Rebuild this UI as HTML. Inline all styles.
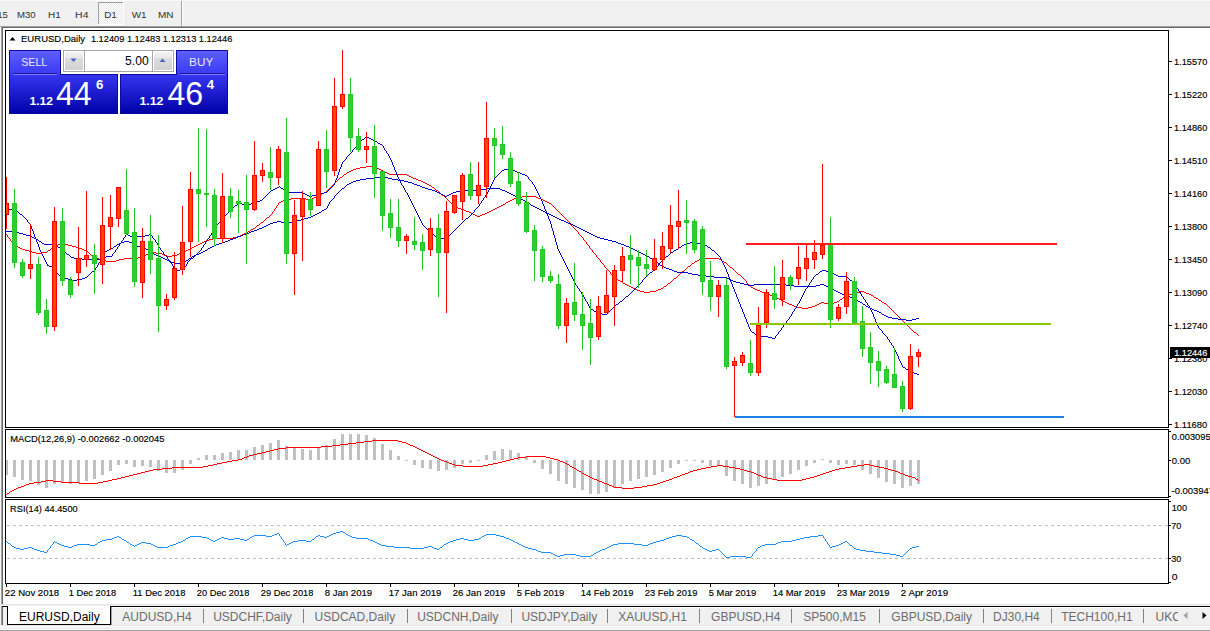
<!DOCTYPE html>
<html><head><meta charset="utf-8"><title>EURUSD,Daily</title>
<style>html,body{margin:0;padding:0;width:1210px;height:631px;overflow:hidden;background:#fff}svg{display:block}</style>
</head><body>
<svg width="1210" height="631" viewBox="0 0 1210 631"><rect x="0" y="0" width="1210" height="631" fill="#ffffff" />
<rect x="0" y="0" width="1210" height="26" fill="#f0f0f0" />
<rect x="0" y="26" width="1210" height="1" fill="#a0a0a0" />
<rect x="1" y="27" width="1209" height="1" fill="#696969" />
<rect x="0" y="28" width="1" height="576" fill="#f8f8f8" />
<rect x="1" y="27" width="1" height="578" fill="#a0a0a0" />
<rect x="2" y="28" width="1" height="577" fill="#696969" />
<rect x="0" y="0" width="1210" height="1" fill="#fafafa" />
<defs><pattern id="chk" x="0" y="0" width="2" height="2" patternUnits="userSpaceOnUse"><rect width="2" height="2" fill="#ffffff"/><rect width="1" height="1" fill="#e8e8e8"/><rect x="1" y="1" width="1" height="1" fill="#e8e8e8"/></pattern></defs>
<rect x="99" y="3" width="24" height="21" fill="url(#chk)" />
<rect x="98" y="2" width="25" height="1" fill="#a0a0a0" />
<rect x="98" y="2" width="1" height="22" fill="#a0a0a0" />
<rect x="98" y="24" width="26" height="1" fill="#ffffff" />
<rect x="123" y="1" width="1" height="24" fill="#ffffff" />
<rect x="181" y="1" width="1" height="26" fill="#a0a0a0" />
<rect x="182" y="1" width="1" height="25" fill="#ffffff" />
<g font-family="'Liberation Sans', Arial, sans-serif">
<text x="-10.8" y="18" font-size="9.8" fill="#383838" font-weight="normal" text-anchor="start" stroke="#383838" stroke-width="0.05" textLength="18.6" lengthAdjust="spacingAndGlyphs">M15</text>
<text x="17.0" y="18" font-size="9.8" fill="#383838" font-weight="normal" text-anchor="start" stroke="#383838" stroke-width="0.05" textLength="18.6" lengthAdjust="spacingAndGlyphs">M30</text>
<text x="48.1" y="18" font-size="9.8" fill="#383838" font-weight="normal" text-anchor="start" stroke="#383838" stroke-width="0.05" textLength="12.7" lengthAdjust="spacingAndGlyphs">H1</text>
<text x="75.1" y="18" font-size="9.8" fill="#383838" font-weight="normal" text-anchor="start" stroke="#383838" stroke-width="0.05" textLength="13.4" lengthAdjust="spacingAndGlyphs">H4</text>
<text x="104.2" y="18" font-size="9.8" fill="#383838" font-weight="normal" text-anchor="start" stroke="#383838" stroke-width="0.05" textLength="12.6" lengthAdjust="spacingAndGlyphs">D1</text>
<text x="131.7" y="18" font-size="9.8" fill="#383838" font-weight="normal" text-anchor="start" stroke="#383838" stroke-width="0.05" textLength="14.8" lengthAdjust="spacingAndGlyphs">W1</text>
<text x="158.0" y="18" font-size="9.8" fill="#383838" font-weight="normal" text-anchor="start" stroke="#383838" stroke-width="0.05" textLength="15.6" lengthAdjust="spacingAndGlyphs">MN</text>
</g>
<g shape-rendering="crispEdges">
<path d="M366 166h6v1h-6zM360 167h6v1h-6zM372 167h4v1h-4zM356 168h4v1h-4zM376 168h3v1h-3zM353 169h3v1h-3zM379 169h2v1h-2zM351 170h2v1h-2zM381 170h2v1h-2zM349 171h2v1h-2zM383 171h2v1h-2zM347 172h2v1h-2zM385 172h2v1h-2zM346 173h1v1h-1zM387 173h2v1h-2zM344 174h2v1h-2zM389 174h18v1h-18zM343 175h1v1h-1zM407 175h2v1h-2zM342 176h1v1h-1zM409 176h2v1h-2zM340 177h2v1h-2zM411 177h2v1h-2zM339 178h1v1h-1zM413 178h3v1h-3zM338 179h1v1h-1zM416 179h2v1h-2zM337 180h1v1h-1zM418 180h3v1h-3zM336 181h1v1h-1zM421 181h2v1h-2zM335 182h1v1h-1zM423 182h2v1h-2zM334 183h1v1h-1zM425 183h2v1h-2zM333 184h1v1h-1zM427 184h2v1h-2zM332 185h1v1h-1zM429 185h2v1h-2zM331 186h1v1h-1zM431 186h1v1h-1zM330 187h1v1h-1zM432 187h2v1h-2zM329 188h1v1h-1zM434 188h1v1h-1zM328 189h1v1h-1zM435 189h1v1h-1zM327 190h1v1h-1zM436 190h2v1h-2zM326 191h1v1h-1zM438 191h1v1h-1zM324 192h2v1h-2zM439 192h1v1h-1zM322 193h2v1h-2zM440 193h1v1h-1zM321 194h1v1h-1zM441 194h1v1h-1zM319 195h2v1h-2zM442 195h2v1h-2zM317 196h2v1h-2zM444 196h1v1h-1zM522 196h14v1h-14zM314 197h3v1h-3zM445 197h1v1h-1zM517 197h5v1h-5zM536 197h2v1h-2zM291 198h15v1h-15zM312 198h2v1h-2zM446 198h1v1h-1zM514 198h3v1h-3zM538 198h3v1h-3zM286 199h5v1h-5zM306 199h6v1h-6zM447 199h1v1h-1zM512 199h2v1h-2zM541 199h2v1h-2zM283 200h3v1h-3zM448 200h1v1h-1zM510 200h2v1h-2zM543 200h2v1h-2zM281 201h2v1h-2zM449 201h1v1h-1zM508 201h2v1h-2zM545 201h2v1h-2zM279 202h2v1h-2zM450 202h1v1h-1zM506 202h2v1h-2zM547 202h2v1h-2zM278 203h1v1h-1zM451 203h1v1h-1zM505 203h1v1h-1zM549 203h2v1h-2zM278 204h1v1h-1zM452 204h1v1h-1zM503 204h2v1h-2zM551 204h1v1h-1zM277 205h1v1h-1zM453 205h1v1h-1zM501 205h2v1h-2zM552 205h1v1h-1zM276 206h1v1h-1zM454 206h2v1h-2zM499 206h2v1h-2zM553 206h1v1h-1zM276 207h1v1h-1zM456 207h2v1h-2zM497 207h2v1h-2zM554 207h1v1h-1zM275 208h1v1h-1zM458 208h3v1h-3zM495 208h2v1h-2zM555 208h1v1h-1zM274 209h1v1h-1zM461 209h3v1h-3zM493 209h2v1h-2zM556 209h1v1h-1zM274 210h1v1h-1zM464 210h2v1h-2zM491 210h2v1h-2zM557 210h1v1h-1zM273 211h1v1h-1zM466 211h3v1h-3zM489 211h2v1h-2zM558 211h1v1h-1zM272 212h1v1h-1zM469 212h2v1h-2zM487 212h2v1h-2zM559 212h1v1h-1zM272 213h1v1h-1zM471 213h2v1h-2zM485 213h2v1h-2zM560 213h1v1h-1zM271 214h1v1h-1zM473 214h2v1h-2zM482 214h3v1h-3zM561 214h1v1h-1zM270 215h1v1h-1zM475 215h2v1h-2zM480 215h2v1h-2zM562 215h1v1h-1zM269 216h1v1h-1zM477 216h3v1h-3zM563 216h1v1h-1zM267 217h2v1h-2zM564 217h1v1h-1zM266 218h1v1h-1zM565 218h1v1h-1zM265 219h1v1h-1zM566 219h1v1h-1zM264 220h1v1h-1zM567 220h1v1h-1zM263 221h1v1h-1zM568 221h1v1h-1zM261 222h2v1h-2zM569 222h1v1h-1zM260 223h1v1h-1zM570 223h1v1h-1zM259 224h1v1h-1zM570 224h1v1h-1zM257 225h2v1h-2zM571 225h1v1h-1zM256 226h1v1h-1zM572 226h1v1h-1zM255 227h1v1h-1zM573 227h1v1h-1zM253 228h2v1h-2zM574 228h1v1h-1zM251 229h2v1h-2zM575 229h1v1h-1zM250 230h1v1h-1zM576 230h1v1h-1zM248 231h2v1h-2zM577 231h1v1h-1zM246 232h2v1h-2zM578 232h1v1h-1zM244 233h2v1h-2zM578 233h1v1h-1zM6 234h1v1h-1zM242 234h2v1h-2zM579 234h1v1h-1zM7 235h1v1h-1zM240 235h2v1h-2zM580 235h1v1h-1zM7 236h1v1h-1zM237 236h3v1h-3zM581 236h1v1h-1zM8 237h1v1h-1zM233 237h4v1h-4zM582 237h1v1h-1zM9 238h1v1h-1zM213 238h20v1h-20zM583 238h1v1h-1zM10 239h1v1h-1zM209 239h4v1h-4zM583 239h1v1h-1zM10 240h1v1h-1zM206 240h3v1h-3zM584 240h1v1h-1zM11 241h1v1h-1zM204 241h2v1h-2zM585 241h1v1h-1zM12 242h1v1h-1zM202 242h2v1h-2zM586 242h1v1h-1zM13 243h1v1h-1zM200 243h2v1h-2zM586 243h1v1h-1zM14 244h2v1h-2zM58 244h10v1h-10zM198 244h2v1h-2zM587 244h1v1h-1zM16 245h1v1h-1zM56 245h2v1h-2zM68 245h4v1h-4zM196 245h2v1h-2zM588 245h1v1h-1zM17 246h1v1h-1zM54 246h2v1h-2zM72 246h4v1h-4zM194 246h2v1h-2zM589 246h1v1h-1zM18 247h2v1h-2zM52 247h2v1h-2zM76 247h3v1h-3zM192 247h2v1h-2zM589 247h1v1h-1zM20 248h2v1h-2zM51 248h1v1h-1zM79 248h3v1h-3zM190 248h2v1h-2zM590 248h1v1h-1zM22 249h3v1h-3zM50 249h1v1h-1zM82 249h2v1h-2zM188 249h2v1h-2zM591 249h1v1h-1zM25 250h4v1h-4zM48 250h2v1h-2zM84 250h2v1h-2zM186 250h2v1h-2zM592 250h1v1h-1zM29 251h3v1h-3zM47 251h1v1h-1zM86 251h2v1h-2zM183 251h3v1h-3zM592 251h1v1h-1zM32 252h4v1h-4zM42 252h5v1h-5zM88 252h1v1h-1zM151 252h5v1h-5zM181 252h2v1h-2zM593 252h1v1h-1zM36 253h6v1h-6zM89 253h1v1h-1zM148 253h3v1h-3zM156 253h6v1h-6zM179 253h2v1h-2zM594 253h1v1h-1zM90 254h1v1h-1zM146 254h2v1h-2zM162 254h2v1h-2zM177 254h2v1h-2zM595 254h1v1h-1zM91 255h1v1h-1zM143 255h3v1h-3zM164 255h3v1h-3zM172 255h5v1h-5zM596 255h1v1h-1zM92 256h1v1h-1zM140 256h3v1h-3zM167 256h5v1h-5zM596 256h1v1h-1zM93 257h2v1h-2zM138 257h2v1h-2zM597 257h1v1h-1zM95 258h4v1h-4zM124 258h14v1h-14zM598 258h1v1h-1zM701 258h18v1h-18zM99 259h3v1h-3zM119 259h5v1h-5zM599 259h1v1h-1zM699 259h2v1h-2zM719 259h2v1h-2zM102 260h4v1h-4zM116 260h3v1h-3zM600 260h1v1h-1zM697 260h2v1h-2zM721 260h1v1h-1zM106 261h10v1h-10zM600 261h1v1h-1zM695 261h2v1h-2zM722 261h2v1h-2zM601 262h1v1h-1zM694 262h1v1h-1zM724 262h2v1h-2zM602 263h1v1h-1zM692 263h2v1h-2zM726 263h1v1h-1zM603 264h1v1h-1zM691 264h1v1h-1zM727 264h1v1h-1zM604 265h1v1h-1zM690 265h1v1h-1zM728 265h1v1h-1zM604 266h1v1h-1zM688 266h2v1h-2zM729 266h1v1h-1zM605 267h1v1h-1zM687 267h1v1h-1zM730 267h2v1h-2zM606 268h1v1h-1zM686 268h1v1h-1zM732 268h1v1h-1zM607 269h1v1h-1zM685 269h1v1h-1zM733 269h1v1h-1zM608 270h1v1h-1zM684 270h1v1h-1zM734 270h1v1h-1zM609 271h1v1h-1zM682 271h2v1h-2zM735 271h1v1h-1zM610 272h1v1h-1zM681 272h1v1h-1zM736 272h1v1h-1zM610 273h1v1h-1zM680 273h1v1h-1zM737 273h1v1h-1zM611 274h1v1h-1zM679 274h1v1h-1zM738 274h2v1h-2zM612 275h1v1h-1zM678 275h1v1h-1zM740 275h1v1h-1zM613 276h1v1h-1zM677 276h1v1h-1zM741 276h1v1h-1zM614 277h1v1h-1zM676 277h1v1h-1zM742 277h1v1h-1zM615 278h2v1h-2zM674 278h2v1h-2zM743 278h1v1h-1zM617 279h1v1h-1zM673 279h1v1h-1zM744 279h1v1h-1zM618 280h2v1h-2zM672 280h1v1h-1zM745 280h1v1h-1zM620 281h2v1h-2zM671 281h1v1h-1zM746 281h1v1h-1zM622 282h1v1h-1zM670 282h1v1h-1zM746 282h1v1h-1zM623 283h2v1h-2zM668 283h2v1h-2zM747 283h1v1h-1zM625 284h2v1h-2zM667 284h1v1h-1zM748 284h1v1h-1zM627 285h2v1h-2zM666 285h1v1h-1zM749 285h1v1h-1zM629 286h2v1h-2zM664 286h2v1h-2zM750 286h1v1h-1zM631 287h2v1h-2zM663 287h1v1h-1zM751 287h2v1h-2zM633 288h2v1h-2zM661 288h2v1h-2zM753 288h2v1h-2zM635 289h2v1h-2zM658 289h3v1h-3zM755 289h2v1h-2zM637 290h3v1h-3zM656 290h2v1h-2zM757 290h3v1h-3zM640 291h4v1h-4zM650 291h6v1h-6zM760 291h2v1h-2zM860 291h4v1h-4zM644 292h6v1h-6zM762 292h3v1h-3zM856 292h4v1h-4zM864 292h2v1h-2zM765 293h3v1h-3zM852 293h4v1h-4zM866 293h3v1h-3zM768 294h2v1h-2zM848 294h4v1h-4zM869 294h2v1h-2zM770 295h3v1h-3zM846 295h2v1h-2zM871 295h2v1h-2zM773 296h2v1h-2zM844 296h2v1h-2zM873 296h1v1h-1zM775 297h2v1h-2zM843 297h1v1h-1zM874 297h2v1h-2zM777 298h2v1h-2zM842 298h1v1h-1zM876 298h2v1h-2zM779 299h2v1h-2zM840 299h2v1h-2zM878 299h1v1h-1zM781 300h2v1h-2zM839 300h1v1h-1zM879 300h2v1h-2zM783 301h2v1h-2zM837 301h2v1h-2zM881 301h1v1h-1zM785 302h2v1h-2zM821 302h3v1h-3zM834 302h3v1h-3zM882 302h2v1h-2zM787 303h2v1h-2zM819 303h2v1h-2zM824 303h4v1h-4zM832 303h2v1h-2zM884 303h2v1h-2zM789 304h3v1h-3zM817 304h2v1h-2zM828 304h4v1h-4zM886 304h1v1h-1zM792 305h2v1h-2zM815 305h2v1h-2zM887 305h1v1h-1zM794 306h3v1h-3zM812 306h3v1h-3zM888 306h1v1h-1zM797 307h5v1h-5zM808 307h4v1h-4zM889 307h1v1h-1zM802 308h6v1h-6zM890 308h1v1h-1zM891 309h1v1h-1zM892 310h1v1h-1zM893 311h1v1h-1zM894 312h1v1h-1zM895 313h1v1h-1zM896 314h1v1h-1zM897 315h1v1h-1zM898 316h1v1h-1zM899 317h1v1h-1zM900 318h1v1h-1zM901 319h1v1h-1zM902 320h1v1h-1zM903 321h1v1h-1zM904 322h1v1h-1zM905 323h1v1h-1zM906 324h1v1h-1zM907 325h1v1h-1zM908 326h1v1h-1zM909 327h1v1h-1zM910 328h1v1h-1zM911 329h1v1h-1zM912 330h1v1h-1zM913 331h1v1h-1zM914 332h2v1h-2zM916 333h1v1h-1zM917 334h1v1h-1zM918 335h1v1h-1z" fill="#ff0000"/>
<path d="M374 177h14v1h-14zM366 178h8v1h-8zM388 178h4v1h-4zM360 179h6v1h-6zM392 179h6v1h-6zM356 180h4v1h-4zM398 180h6v1h-6zM353 181h3v1h-3zM404 181h4v1h-4zM351 182h2v1h-2zM408 182h4v1h-4zM349 183h2v1h-2zM412 183h2v1h-2zM347 184h2v1h-2zM414 184h3v1h-3zM346 185h1v1h-1zM417 185h3v1h-3zM345 186h1v1h-1zM420 186h2v1h-2zM344 187h1v1h-1zM422 187h3v1h-3zM342 188h2v1h-2zM425 188h3v1h-3zM486 188h14v1h-14zM341 189h1v1h-1zM428 189h4v1h-4zM476 189h10v1h-10zM500 189h2v1h-2zM340 190h1v1h-1zM432 190h3v1h-3zM460 190h16v1h-16zM502 190h3v1h-3zM339 191h1v1h-1zM435 191h2v1h-2zM456 191h4v1h-4zM505 191h2v1h-2zM338 192h1v1h-1zM437 192h2v1h-2zM453 192h3v1h-3zM507 192h2v1h-2zM337 193h1v1h-1zM439 193h2v1h-2zM451 193h2v1h-2zM509 193h2v1h-2zM336 194h1v1h-1zM441 194h2v1h-2zM449 194h2v1h-2zM511 194h2v1h-2zM335 195h1v1h-1zM443 195h2v1h-2zM447 195h2v1h-2zM513 195h2v1h-2zM334 196h1v1h-1zM445 196h2v1h-2zM515 196h2v1h-2zM334 197h1v1h-1zM517 197h2v1h-2zM333 198h1v1h-1zM519 198h2v1h-2zM332 199h1v1h-1zM521 199h2v1h-2zM331 200h1v1h-1zM523 200h2v1h-2zM330 201h1v1h-1zM525 201h1v1h-1zM329 202h1v1h-1zM526 202h2v1h-2zM329 203h1v1h-1zM528 203h2v1h-2zM328 204h1v1h-1zM530 204h1v1h-1zM328 205h1v1h-1zM531 205h2v1h-2zM327 206h1v1h-1zM533 206h2v1h-2zM327 207h1v1h-1zM535 207h2v1h-2zM326 208h1v1h-1zM537 208h2v1h-2zM324 209h2v1h-2zM539 209h2v1h-2zM322 210h2v1h-2zM541 210h2v1h-2zM321 211h1v1h-1zM543 211h2v1h-2zM319 212h2v1h-2zM545 212h2v1h-2zM317 213h2v1h-2zM547 213h2v1h-2zM315 214h2v1h-2zM549 214h2v1h-2zM313 215h2v1h-2zM551 215h2v1h-2zM311 216h2v1h-2zM553 216h2v1h-2zM308 217h3v1h-3zM555 217h2v1h-2zM304 218h4v1h-4zM557 218h2v1h-2zM301 219h3v1h-3zM559 219h2v1h-2zM297 220h4v1h-4zM561 220h3v1h-3zM277 221h4v1h-4zM293 221h4v1h-4zM564 221h2v1h-2zM273 222h4v1h-4zM281 222h4v1h-4zM289 222h4v1h-4zM566 222h2v1h-2zM270 223h3v1h-3zM285 223h4v1h-4zM568 223h3v1h-3zM268 224h2v1h-2zM571 224h2v1h-2zM266 225h2v1h-2zM573 225h2v1h-2zM264 226h2v1h-2zM575 226h2v1h-2zM262 227h2v1h-2zM577 227h2v1h-2zM259 228h3v1h-3zM579 228h2v1h-2zM257 229h2v1h-2zM581 229h2v1h-2zM254 230h3v1h-3zM583 230h2v1h-2zM6 231h6v1h-6zM251 231h3v1h-3zM585 231h2v1h-2zM12 232h7v1h-7zM249 232h2v1h-2zM587 232h2v1h-2zM19 233h4v1h-4zM246 233h3v1h-3zM589 233h2v1h-2zM23 234h3v1h-3zM243 234h3v1h-3zM591 234h2v1h-2zM26 235h4v1h-4zM241 235h2v1h-2zM593 235h2v1h-2zM30 236h2v1h-2zM238 236h3v1h-3zM595 236h2v1h-2zM32 237h2v1h-2zM236 237h2v1h-2zM597 237h3v1h-3zM34 238h2v1h-2zM233 238h3v1h-3zM600 238h4v1h-4zM36 239h2v1h-2zM230 239h3v1h-3zM604 239h4v1h-4zM38 240h1v1h-1zM228 240h2v1h-2zM608 240h4v1h-4zM39 241h2v1h-2zM124 241h5v1h-5zM225 241h3v1h-3zM612 241h4v1h-4zM41 242h1v1h-1zM121 242h3v1h-3zM129 242h3v1h-3zM222 242h3v1h-3zM616 242h2v1h-2zM42 243h2v1h-2zM119 243h2v1h-2zM132 243h2v1h-2zM219 243h3v1h-3zM618 243h3v1h-3zM44 244h10v1h-10zM117 244h2v1h-2zM134 244h1v1h-1zM216 244h3v1h-3zM621 244h3v1h-3zM54 245h2v1h-2zM116 245h1v1h-1zM135 245h2v1h-2zM214 245h2v1h-2zM624 245h2v1h-2zM56 246h2v1h-2zM114 246h2v1h-2zM137 246h4v1h-4zM212 246h2v1h-2zM626 246h3v1h-3zM58 247h2v1h-2zM113 247h1v1h-1zM141 247h4v1h-4zM210 247h2v1h-2zM629 247h2v1h-2zM60 248h1v1h-1zM111 248h2v1h-2zM145 248h1v1h-1zM208 248h2v1h-2zM631 248h2v1h-2zM61 249h1v1h-1zM109 249h2v1h-2zM146 249h2v1h-2zM207 249h1v1h-1zM633 249h2v1h-2zM62 250h2v1h-2zM107 250h2v1h-2zM148 250h1v1h-1zM205 250h2v1h-2zM635 250h2v1h-2zM64 251h1v1h-1zM105 251h2v1h-2zM149 251h2v1h-2zM203 251h2v1h-2zM637 251h2v1h-2zM65 252h1v1h-1zM104 252h1v1h-1zM151 252h1v1h-1zM201 252h2v1h-2zM639 252h2v1h-2zM66 253h1v1h-1zM103 253h1v1h-1zM152 253h2v1h-2zM199 253h2v1h-2zM641 253h2v1h-2zM67 254h2v1h-2zM103 254h1v1h-1zM154 254h2v1h-2zM196 254h3v1h-3zM643 254h2v1h-2zM69 255h1v1h-1zM102 255h1v1h-1zM156 255h2v1h-2zM194 255h2v1h-2zM645 255h2v1h-2zM70 256h1v1h-1zM102 256h1v1h-1zM158 256h3v1h-3zM192 256h2v1h-2zM647 256h2v1h-2zM71 257h3v1h-3zM101 257h1v1h-1zM161 257h2v1h-2zM191 257h1v1h-1zM649 257h1v1h-1zM74 258h8v1h-8zM101 258h1v1h-1zM163 258h2v1h-2zM189 258h2v1h-2zM650 258h2v1h-2zM82 259h19v1h-19zM165 259h2v1h-2zM188 259h1v1h-1zM652 259h2v1h-2zM167 260h2v1h-2zM186 260h2v1h-2zM654 260h1v1h-1zM169 261h2v1h-2zM184 261h2v1h-2zM655 261h1v1h-1zM171 262h4v1h-4zM180 262h4v1h-4zM656 262h2v1h-2zM175 263h5v1h-5zM658 263h1v1h-1zM659 264h1v1h-1zM660 265h2v1h-2zM662 266h2v1h-2zM664 267h2v1h-2zM666 268h3v1h-3zM669 269h3v1h-3zM672 270h2v1h-2zM674 271h3v1h-3zM677 272h11v1h-11zM688 273h4v1h-4zM692 274h6v1h-6zM698 275h8v1h-8zM706 276h8v1h-8zM714 277h13v1h-13zM727 278h2v1h-2zM729 279h2v1h-2zM731 280h2v1h-2zM733 281h3v1h-3zM736 282h4v1h-4zM740 283h4v1h-4zM744 284h4v1h-4zM754 284h32v1h-32zM820 284h4v1h-4zM748 285h6v1h-6zM786 285h8v1h-8zM816 285h4v1h-4zM824 285h2v1h-2zM794 286h22v1h-22zM826 286h3v1h-3zM829 287h2v1h-2zM831 288h2v1h-2zM833 289h1v1h-1zM834 290h2v1h-2zM836 291h2v1h-2zM838 292h2v1h-2zM840 293h2v1h-2zM842 294h3v1h-3zM845 295h3v1h-3zM848 296h2v1h-2zM850 297h3v1h-3zM853 298h2v1h-2zM855 299h2v1h-2zM857 300h1v1h-1zM858 301h2v1h-2zM860 302h2v1h-2zM862 303h1v1h-1zM863 304h2v1h-2zM865 305h1v1h-1zM866 306h2v1h-2zM868 307h2v1h-2zM870 308h2v1h-2zM872 309h2v1h-2zM874 310h3v1h-3zM877 311h2v1h-2zM879 312h2v1h-2zM881 313h1v1h-1zM882 314h2v1h-2zM884 315h2v1h-2zM886 316h2v1h-2zM888 317h4v1h-4zM892 318h6v1h-6zM916 318h3v1h-3zM898 319h8v1h-8zM912 319h4v1h-4zM906 320h6v1h-6z" fill="#0000cd"/>
<path d="M366 136h1v1h-1zM365 137h1v1h-1zM367 137h2v1h-2zM364 138h1v1h-1zM369 138h2v1h-2zM362 139h2v1h-2zM371 139h2v1h-2zM361 140h1v1h-1zM373 140h2v1h-2zM360 141h1v1h-1zM375 141h2v1h-2zM359 142h1v1h-1zM377 142h1v1h-1zM358 143h1v1h-1zM378 143h2v1h-2zM357 144h1v1h-1zM380 144h2v1h-2zM356 145h1v1h-1zM382 145h1v1h-1zM356 146h1v1h-1zM383 146h1v1h-1zM355 147h1v1h-1zM383 147h1v1h-1zM354 148h1v1h-1zM384 148h1v1h-1zM353 149h1v1h-1zM384 149h1v1h-1zM352 150h1v1h-1zM385 150h1v1h-1zM352 151h1v1h-1zM386 151h1v1h-1zM351 152h1v1h-1zM386 152h1v1h-1zM350 153h1v1h-1zM387 153h1v1h-1zM349 154h1v1h-1zM388 154h1v1h-1zM348 155h1v1h-1zM388 155h1v1h-1zM347 156h1v1h-1zM389 156h1v1h-1zM346 157h1v1h-1zM389 157h1v1h-1zM346 158h1v1h-1zM390 158h1v1h-1zM345 159h1v1h-1zM390 159h1v1h-1zM344 160h1v1h-1zM391 160h1v1h-1zM343 161h1v1h-1zM391 161h1v1h-1zM342 162h1v1h-1zM392 162h1v1h-1zM342 163h1v1h-1zM392 163h1v1h-1zM341 164h1v1h-1zM392 164h1v1h-1zM341 165h1v1h-1zM393 165h1v1h-1zM341 166h1v1h-1zM393 166h1v1h-1zM340 167h1v1h-1zM394 167h1v1h-1zM340 168h1v1h-1zM394 168h1v1h-1zM508 168h3v1h-3zM339 169h1v1h-1zM394 169h1v1h-1zM504 169h4v1h-4zM511 169h2v1h-2zM339 170h1v1h-1zM395 170h1v1h-1zM502 170h2v1h-2zM513 170h2v1h-2zM339 171h1v1h-1zM395 171h1v1h-1zM501 171h1v1h-1zM515 171h2v1h-2zM338 172h1v1h-1zM396 172h1v1h-1zM500 172h1v1h-1zM517 172h3v1h-3zM338 173h1v1h-1zM396 173h1v1h-1zM499 173h1v1h-1zM520 173h2v1h-2zM338 174h1v1h-1zM396 174h1v1h-1zM498 174h1v1h-1zM522 174h3v1h-3zM337 175h1v1h-1zM397 175h1v1h-1zM497 175h1v1h-1zM525 175h2v1h-2zM337 176h1v1h-1zM397 176h1v1h-1zM496 176h1v1h-1zM527 176h1v1h-1zM337 177h1v1h-1zM398 177h1v1h-1zM495 177h1v1h-1zM528 177h1v1h-1zM336 178h1v1h-1zM398 178h1v1h-1zM494 178h1v1h-1zM528 178h1v1h-1zM336 179h1v1h-1zM399 179h1v1h-1zM494 179h1v1h-1zM529 179h1v1h-1zM335 180h1v1h-1zM399 180h1v1h-1zM493 180h1v1h-1zM530 180h1v1h-1zM335 181h1v1h-1zM400 181h1v1h-1zM493 181h1v1h-1zM531 181h1v1h-1zM335 182h1v1h-1zM400 182h1v1h-1zM492 182h1v1h-1zM532 182h1v1h-1zM334 183h1v1h-1zM401 183h1v1h-1zM492 183h1v1h-1zM532 183h1v1h-1zM334 184h1v1h-1zM401 184h1v1h-1zM491 184h1v1h-1zM533 184h1v1h-1zM333 185h1v1h-1zM402 185h1v1h-1zM491 185h1v1h-1zM534 185h1v1h-1zM279 186h1v1h-1zM332 186h1v1h-1zM403 186h1v1h-1zM490 186h1v1h-1zM534 186h1v1h-1zM277 187h2v1h-2zM280 187h1v1h-1zM331 187h1v1h-1zM403 187h1v1h-1zM490 187h1v1h-1zM535 187h1v1h-1zM275 188h2v1h-2zM281 188h2v1h-2zM330 188h1v1h-1zM404 188h1v1h-1zM489 188h1v1h-1zM535 188h1v1h-1zM273 189h2v1h-2zM283 189h1v1h-1zM329 189h1v1h-1zM404 189h1v1h-1zM489 189h1v1h-1zM536 189h1v1h-1zM271 190h2v1h-2zM284 190h1v1h-1zM328 190h1v1h-1zM405 190h1v1h-1zM488 190h1v1h-1zM536 190h1v1h-1zM270 191h1v1h-1zM285 191h2v1h-2zM327 191h1v1h-1zM405 191h1v1h-1zM488 191h1v1h-1zM537 191h1v1h-1zM269 192h1v1h-1zM287 192h16v1h-16zM324 192h3v1h-3zM406 192h1v1h-1zM487 192h1v1h-1zM537 192h1v1h-1zM268 193h1v1h-1zM303 193h2v1h-2zM320 193h4v1h-4zM407 193h1v1h-1zM487 193h1v1h-1zM538 193h1v1h-1zM267 194h1v1h-1zM305 194h2v1h-2zM316 194h4v1h-4zM407 194h1v1h-1zM486 194h1v1h-1zM538 194h1v1h-1zM266 195h1v1h-1zM307 195h2v1h-2zM312 195h4v1h-4zM408 195h1v1h-1zM485 195h1v1h-1zM539 195h1v1h-1zM265 196h1v1h-1zM309 196h3v1h-3zM408 196h1v1h-1zM485 196h1v1h-1zM539 196h1v1h-1zM264 197h1v1h-1zM409 197h1v1h-1zM484 197h1v1h-1zM540 197h1v1h-1zM263 198h1v1h-1zM409 198h1v1h-1zM483 198h1v1h-1zM540 198h1v1h-1zM262 199h1v1h-1zM410 199h1v1h-1zM483 199h1v1h-1zM541 199h1v1h-1zM260 200h2v1h-2zM410 200h1v1h-1zM482 200h1v1h-1zM541 200h1v1h-1zM257 201h3v1h-3zM411 201h1v1h-1zM481 201h1v1h-1zM542 201h1v1h-1zM254 202h3v1h-3zM411 202h1v1h-1zM481 202h1v1h-1zM542 202h1v1h-1zM239 203h3v1h-3zM251 203h3v1h-3zM412 203h1v1h-1zM480 203h1v1h-1zM542 203h1v1h-1zM237 204h2v1h-2zM242 204h2v1h-2zM247 204h4v1h-4zM412 204h1v1h-1zM479 204h1v1h-1zM543 204h1v1h-1zM235 205h2v1h-2zM244 205h3v1h-3zM413 205h1v1h-1zM479 205h1v1h-1zM543 205h1v1h-1zM234 206h1v1h-1zM413 206h1v1h-1zM478 206h1v1h-1zM544 206h1v1h-1zM233 207h1v1h-1zM414 207h1v1h-1zM477 207h1v1h-1zM544 207h1v1h-1zM232 208h1v1h-1zM414 208h1v1h-1zM476 208h1v1h-1zM544 208h1v1h-1zM8 209h4v1h-4zM231 209h1v1h-1zM415 209h1v1h-1zM475 209h1v1h-1zM545 209h1v1h-1zM6 210h2v1h-2zM12 210h4v1h-4zM230 210h1v1h-1zM415 210h1v1h-1zM474 210h1v1h-1zM545 210h1v1h-1zM16 211h2v1h-2zM229 211h1v1h-1zM416 211h1v1h-1zM474 211h1v1h-1zM546 211h1v1h-1zM18 212h1v1h-1zM228 212h1v1h-1zM416 212h1v1h-1zM473 212h1v1h-1zM546 212h1v1h-1zM19 213h1v1h-1zM227 213h1v1h-1zM417 213h1v1h-1zM472 213h1v1h-1zM546 213h1v1h-1zM20 214h2v1h-2zM226 214h1v1h-1zM417 214h1v1h-1zM471 214h1v1h-1zM547 214h1v1h-1zM22 215h1v1h-1zM225 215h1v1h-1zM418 215h1v1h-1zM470 215h1v1h-1zM547 215h1v1h-1zM23 216h1v1h-1zM224 216h1v1h-1zM418 216h1v1h-1zM469 216h1v1h-1zM548 216h1v1h-1zM24 217h1v1h-1zM223 217h1v1h-1zM419 217h1v1h-1zM468 217h1v1h-1zM548 217h1v1h-1zM25 218h1v1h-1zM222 218h1v1h-1zM419 218h1v1h-1zM466 218h2v1h-2zM548 218h1v1h-1zM26 219h1v1h-1zM222 219h1v1h-1zM420 219h1v1h-1zM465 219h1v1h-1zM549 219h1v1h-1zM27 220h1v1h-1zM221 220h1v1h-1zM420 220h1v1h-1zM464 220h1v1h-1zM549 220h1v1h-1zM27 221h1v1h-1zM220 221h1v1h-1zM421 221h1v1h-1zM463 221h1v1h-1zM550 221h1v1h-1zM28 222h1v1h-1zM219 222h1v1h-1zM421 222h1v1h-1zM462 222h1v1h-1zM550 222h1v1h-1zM29 223h1v1h-1zM218 223h1v1h-1zM422 223h1v1h-1zM461 223h1v1h-1zM550 223h1v1h-1zM30 224h1v1h-1zM217 224h1v1h-1zM422 224h1v1h-1zM460 224h1v1h-1zM551 224h1v1h-1zM30 225h1v1h-1zM216 225h1v1h-1zM423 225h1v1h-1zM459 225h1v1h-1zM551 225h1v1h-1zM31 226h1v1h-1zM216 226h1v1h-1zM424 226h1v1h-1zM458 226h1v1h-1zM551 226h1v1h-1zM31 227h1v1h-1zM215 227h1v1h-1zM425 227h1v1h-1zM457 227h1v1h-1zM551 227h1v1h-1zM31 228h1v1h-1zM214 228h1v1h-1zM426 228h1v1h-1zM456 228h1v1h-1zM552 228h1v1h-1zM32 229h1v1h-1zM214 229h1v1h-1zM427 229h1v1h-1zM455 229h1v1h-1zM552 229h1v1h-1zM32 230h1v1h-1zM213 230h1v1h-1zM428 230h1v1h-1zM454 230h1v1h-1zM552 230h1v1h-1zM33 231h1v1h-1zM213 231h1v1h-1zM429 231h1v1h-1zM453 231h1v1h-1zM553 231h1v1h-1zM33 232h1v1h-1zM212 232h1v1h-1zM430 232h1v1h-1zM452 232h1v1h-1zM553 232h1v1h-1zM33 233h1v1h-1zM211 233h1v1h-1zM431 233h1v1h-1zM451 233h1v1h-1zM553 233h1v1h-1zM34 234h1v1h-1zM126 234h2v1h-2zM149 234h2v1h-2zM211 234h1v1h-1zM432 234h2v1h-2zM450 234h1v1h-1zM553 234h1v1h-1zM34 235h1v1h-1zM125 235h1v1h-1zM128 235h2v1h-2zM145 235h4v1h-4zM151 235h1v1h-1zM210 235h1v1h-1zM434 235h1v1h-1zM449 235h1v1h-1zM554 235h1v1h-1zM34 236h1v1h-1zM125 236h1v1h-1zM130 236h15v1h-15zM152 236h1v1h-1zM209 236h1v1h-1zM435 236h1v1h-1zM448 236h1v1h-1zM554 236h1v1h-1zM35 237h1v1h-1zM124 237h1v1h-1zM152 237h1v1h-1zM209 237h1v1h-1zM436 237h2v1h-2zM447 237h1v1h-1zM554 237h1v1h-1zM35 238h1v1h-1zM123 238h1v1h-1zM153 238h1v1h-1zM208 238h1v1h-1zM438 238h9v1h-9zM555 238h1v1h-1zM36 239h1v1h-1zM123 239h1v1h-1zM154 239h1v1h-1zM207 239h1v1h-1zM555 239h1v1h-1zM36 240h1v1h-1zM122 240h1v1h-1zM155 240h1v1h-1zM207 240h1v1h-1zM555 240h1v1h-1zM36 241h1v1h-1zM121 241h1v1h-1zM155 241h1v1h-1zM206 241h1v1h-1zM555 241h1v1h-1zM37 242h1v1h-1zM121 242h1v1h-1zM156 242h1v1h-1zM205 242h1v1h-1zM556 242h1v1h-1zM690 242h6v1h-6zM37 243h1v1h-1zM120 243h1v1h-1zM157 243h1v1h-1zM205 243h1v1h-1zM556 243h1v1h-1zM686 243h4v1h-4zM696 243h4v1h-4zM38 244h1v1h-1zM119 244h1v1h-1zM157 244h1v1h-1zM204 244h1v1h-1zM556 244h1v1h-1zM684 244h2v1h-2zM700 244h4v1h-4zM38 245h1v1h-1zM119 245h1v1h-1zM158 245h1v1h-1zM203 245h1v1h-1zM557 245h1v1h-1zM682 245h2v1h-2zM704 245h3v1h-3zM38 246h1v1h-1zM118 246h1v1h-1zM158 246h1v1h-1zM203 246h1v1h-1zM557 246h1v1h-1zM681 246h1v1h-1zM707 246h1v1h-1zM39 247h1v1h-1zM117 247h1v1h-1zM159 247h1v1h-1zM202 247h1v1h-1zM557 247h1v1h-1zM679 247h2v1h-2zM708 247h2v1h-2zM39 248h1v1h-1zM117 248h1v1h-1zM160 248h1v1h-1zM201 248h1v1h-1zM557 248h1v1h-1zM678 248h1v1h-1zM710 248h1v1h-1zM39 249h1v1h-1zM116 249h1v1h-1zM160 249h1v1h-1zM201 249h1v1h-1zM558 249h1v1h-1zM676 249h2v1h-2zM711 249h1v1h-1zM40 250h1v1h-1zM115 250h1v1h-1zM161 250h1v1h-1zM200 250h1v1h-1zM558 250h1v1h-1zM674 250h2v1h-2zM712 250h2v1h-2zM40 251h1v1h-1zM115 251h1v1h-1zM162 251h1v1h-1zM199 251h1v1h-1zM559 251h1v1h-1zM673 251h1v1h-1zM714 251h1v1h-1zM41 252h1v1h-1zM114 252h1v1h-1zM163 252h1v1h-1zM198 252h1v1h-1zM559 252h1v1h-1zM671 252h2v1h-2zM715 252h1v1h-1zM41 253h1v1h-1zM113 253h1v1h-1zM163 253h1v1h-1zM197 253h1v1h-1zM560 253h1v1h-1zM670 253h1v1h-1zM716 253h1v1h-1zM42 254h1v1h-1zM112 254h1v1h-1zM164 254h1v1h-1zM196 254h1v1h-1zM560 254h1v1h-1zM669 254h1v1h-1zM717 254h1v1h-1zM42 255h1v1h-1zM112 255h1v1h-1zM165 255h1v1h-1zM195 255h1v1h-1zM561 255h1v1h-1zM668 255h1v1h-1zM718 255h1v1h-1zM43 256h1v1h-1zM106 256h6v1h-6zM166 256h1v1h-1zM194 256h1v1h-1zM561 256h1v1h-1zM666 256h2v1h-2zM719 256h1v1h-1zM43 257h1v1h-1zM105 257h1v1h-1zM167 257h1v1h-1zM193 257h1v1h-1zM562 257h1v1h-1zM665 257h1v1h-1zM720 257h1v1h-1zM44 258h1v1h-1zM104 258h1v1h-1zM167 258h1v1h-1zM191 258h2v1h-2zM562 258h1v1h-1zM664 258h1v1h-1zM720 258h1v1h-1zM44 259h1v1h-1zM102 259h2v1h-2zM168 259h1v1h-1zM190 259h1v1h-1zM563 259h1v1h-1zM663 259h1v1h-1zM721 259h1v1h-1zM45 260h1v1h-1zM101 260h1v1h-1zM169 260h1v1h-1zM189 260h1v1h-1zM563 260h1v1h-1zM662 260h1v1h-1zM721 260h1v1h-1zM45 261h1v1h-1zM100 261h1v1h-1zM170 261h1v1h-1zM188 261h1v1h-1zM564 261h1v1h-1zM661 261h1v1h-1zM722 261h1v1h-1zM46 262h1v1h-1zM99 262h1v1h-1zM170 262h1v1h-1zM187 262h1v1h-1zM564 262h1v1h-1zM660 262h1v1h-1zM722 262h1v1h-1zM46 263h1v1h-1zM98 263h1v1h-1zM171 263h1v1h-1zM187 263h1v1h-1zM565 263h1v1h-1zM659 263h1v1h-1zM723 263h1v1h-1zM47 264h1v1h-1zM98 264h1v1h-1zM172 264h1v1h-1zM186 264h1v1h-1zM565 264h1v1h-1zM658 264h1v1h-1zM723 264h1v1h-1zM47 265h2v1h-2zM97 265h1v1h-1zM172 265h1v1h-1zM186 265h1v1h-1zM566 265h1v1h-1zM658 265h1v1h-1zM724 265h1v1h-1zM49 266h3v1h-3zM97 266h1v1h-1zM173 266h1v1h-1zM185 266h1v1h-1zM566 266h1v1h-1zM657 266h1v1h-1zM724 266h1v1h-1zM52 267h1v1h-1zM96 267h1v1h-1zM173 267h1v1h-1zM184 267h1v1h-1zM567 267h1v1h-1zM656 267h1v1h-1zM725 267h1v1h-1zM53 268h1v1h-1zM95 268h1v1h-1zM174 268h1v1h-1zM184 268h1v1h-1zM567 268h1v1h-1zM655 268h1v1h-1zM725 268h1v1h-1zM54 269h1v1h-1zM95 269h1v1h-1zM175 269h2v1h-2zM180 269h4v1h-4zM568 269h1v1h-1zM654 269h1v1h-1zM726 269h1v1h-1zM55 270h1v1h-1zM94 270h1v1h-1zM177 270h3v1h-3zM568 270h1v1h-1zM653 270h1v1h-1zM726 270h1v1h-1zM822 270h4v1h-4zM55 271h1v1h-1zM92 271h2v1h-2zM569 271h1v1h-1zM652 271h1v1h-1zM726 271h1v1h-1zM820 271h2v1h-2zM826 271h5v1h-5zM56 272h1v1h-1zM91 272h1v1h-1zM569 272h1v1h-1zM650 272h2v1h-2zM727 272h1v1h-1zM819 272h1v1h-1zM831 272h2v1h-2zM57 273h1v1h-1zM90 273h1v1h-1zM570 273h1v1h-1zM649 273h1v1h-1zM727 273h1v1h-1zM818 273h1v1h-1zM833 273h1v1h-1zM58 274h1v1h-1zM89 274h1v1h-1zM570 274h1v1h-1zM648 274h1v1h-1zM728 274h1v1h-1zM816 274h2v1h-2zM834 274h2v1h-2zM59 275h2v1h-2zM88 275h1v1h-1zM571 275h1v1h-1zM647 275h1v1h-1zM728 275h1v1h-1zM815 275h1v1h-1zM836 275h2v1h-2zM61 276h2v1h-2zM87 276h1v1h-1zM571 276h1v1h-1zM646 276h1v1h-1zM728 276h1v1h-1zM814 276h1v1h-1zM838 276h9v1h-9zM63 277h2v1h-2zM85 277h2v1h-2zM572 277h1v1h-1zM645 277h1v1h-1zM729 277h1v1h-1zM813 277h1v1h-1zM847 277h1v1h-1zM65 278h3v1h-3zM82 278h3v1h-3zM572 278h1v1h-1zM644 278h1v1h-1zM729 278h1v1h-1zM813 278h1v1h-1zM848 278h1v1h-1zM68 279h4v1h-4zM77 279h5v1h-5zM573 279h1v1h-1zM643 279h1v1h-1zM730 279h1v1h-1zM812 279h1v1h-1zM849 279h1v1h-1zM72 280h5v1h-5zM573 280h1v1h-1zM642 280h1v1h-1zM730 280h1v1h-1zM811 280h1v1h-1zM850 280h2v1h-2zM574 281h1v1h-1zM642 281h1v1h-1zM730 281h1v1h-1zM811 281h1v1h-1zM852 281h1v1h-1zM574 282h1v1h-1zM641 282h1v1h-1zM731 282h1v1h-1zM810 282h1v1h-1zM853 282h1v1h-1zM575 283h1v1h-1zM640 283h1v1h-1zM731 283h1v1h-1zM809 283h1v1h-1zM854 283h1v1h-1zM575 284h1v1h-1zM639 284h1v1h-1zM732 284h1v1h-1zM809 284h1v1h-1zM855 284h1v1h-1zM576 285h1v1h-1zM638 285h1v1h-1zM732 285h1v1h-1zM808 285h1v1h-1zM855 285h1v1h-1zM577 286h1v1h-1zM637 286h1v1h-1zM732 286h1v1h-1zM807 286h1v1h-1zM856 286h1v1h-1zM577 287h1v1h-1zM636 287h1v1h-1zM733 287h1v1h-1zM807 287h1v1h-1zM856 287h1v1h-1zM578 288h1v1h-1zM635 288h1v1h-1zM733 288h1v1h-1zM806 288h1v1h-1zM857 288h1v1h-1zM579 289h1v1h-1zM634 289h1v1h-1zM734 289h1v1h-1zM805 289h1v1h-1zM858 289h1v1h-1zM579 290h1v1h-1zM633 290h1v1h-1zM734 290h1v1h-1zM805 290h1v1h-1zM858 290h1v1h-1zM580 291h1v1h-1zM632 291h1v1h-1zM734 291h1v1h-1zM804 291h1v1h-1zM859 291h1v1h-1zM581 292h1v1h-1zM631 292h1v1h-1zM735 292h1v1h-1zM804 292h1v1h-1zM860 292h1v1h-1zM581 293h1v1h-1zM630 293h1v1h-1zM735 293h1v1h-1zM803 293h1v1h-1zM860 293h1v1h-1zM582 294h1v1h-1zM629 294h1v1h-1zM736 294h1v1h-1zM803 294h1v1h-1zM861 294h1v1h-1zM583 295h1v1h-1zM628 295h1v1h-1zM736 295h1v1h-1zM802 295h1v1h-1zM861 295h1v1h-1zM583 296h1v1h-1zM626 296h2v1h-2zM736 296h1v1h-1zM802 296h1v1h-1zM862 296h1v1h-1zM584 297h1v1h-1zM625 297h1v1h-1zM737 297h1v1h-1zM801 297h1v1h-1zM863 297h1v1h-1zM584 298h1v1h-1zM624 298h1v1h-1zM737 298h1v1h-1zM801 298h1v1h-1zM863 298h1v1h-1zM585 299h1v1h-1zM623 299h1v1h-1zM738 299h1v1h-1zM800 299h1v1h-1zM864 299h1v1h-1zM585 300h1v1h-1zM622 300h1v1h-1zM738 300h1v1h-1zM800 300h1v1h-1zM865 300h1v1h-1zM586 301h1v1h-1zM620 301h2v1h-2zM738 301h1v1h-1zM799 301h1v1h-1zM865 301h1v1h-1zM587 302h1v1h-1zM619 302h1v1h-1zM739 302h1v1h-1zM799 302h1v1h-1zM866 302h1v1h-1zM587 303h1v1h-1zM618 303h1v1h-1zM739 303h1v1h-1zM798 303h1v1h-1zM867 303h1v1h-1zM588 304h1v1h-1zM616 304h2v1h-2zM740 304h1v1h-1zM797 304h1v1h-1zM867 304h1v1h-1zM588 305h1v1h-1zM615 305h1v1h-1zM740 305h1v1h-1zM797 305h1v1h-1zM868 305h1v1h-1zM589 306h1v1h-1zM614 306h1v1h-1zM740 306h1v1h-1zM796 306h1v1h-1zM869 306h1v1h-1zM589 307h1v1h-1zM613 307h1v1h-1zM741 307h1v1h-1zM796 307h1v1h-1zM869 307h1v1h-1zM590 308h1v1h-1zM612 308h1v1h-1zM741 308h1v1h-1zM795 308h1v1h-1zM870 308h1v1h-1zM591 309h2v1h-2zM611 309h1v1h-1zM742 309h1v1h-1zM794 309h1v1h-1zM870 309h1v1h-1zM593 310h1v1h-1zM610 310h1v1h-1zM742 310h1v1h-1zM794 310h1v1h-1zM871 310h1v1h-1zM594 311h2v1h-2zM609 311h1v1h-1zM742 311h1v1h-1zM793 311h1v1h-1zM871 311h1v1h-1zM596 312h2v1h-2zM608 312h1v1h-1zM743 312h1v1h-1zM792 312h1v1h-1zM872 312h1v1h-1zM598 313h4v1h-4zM607 313h1v1h-1zM743 313h1v1h-1zM792 313h1v1h-1zM872 313h1v1h-1zM602 314h5v1h-5zM744 314h1v1h-1zM791 314h1v1h-1zM873 314h1v1h-1zM744 315h1v1h-1zM791 315h1v1h-1zM873 315h1v1h-1zM744 316h1v1h-1zM790 316h1v1h-1zM873 316h1v1h-1zM745 317h1v1h-1zM789 317h1v1h-1zM874 317h1v1h-1zM745 318h1v1h-1zM789 318h1v1h-1zM874 318h1v1h-1zM746 319h1v1h-1zM788 319h1v1h-1zM875 319h1v1h-1zM746 320h1v1h-1zM787 320h1v1h-1zM875 320h1v1h-1zM746 321h1v1h-1zM786 321h1v1h-1zM875 321h1v1h-1zM747 322h1v1h-1zM786 322h1v1h-1zM876 322h1v1h-1zM747 323h1v1h-1zM785 323h1v1h-1zM876 323h1v1h-1zM748 324h1v1h-1zM784 324h1v1h-1zM877 324h1v1h-1zM748 325h1v1h-1zM783 325h1v1h-1zM877 325h1v1h-1zM748 326h1v1h-1zM783 326h1v1h-1zM878 326h1v1h-1zM749 327h1v1h-1zM782 327h1v1h-1zM878 327h1v1h-1zM749 328h1v1h-1zM781 328h1v1h-1zM879 328h1v1h-1zM750 329h1v1h-1zM781 329h1v1h-1zM880 329h1v1h-1zM750 330h1v1h-1zM780 330h1v1h-1zM881 330h1v1h-1zM751 331h1v1h-1zM779 331h1v1h-1zM882 331h1v1h-1zM752 332h2v1h-2zM778 332h1v1h-1zM882 332h1v1h-1zM754 333h1v1h-1zM778 333h1v1h-1zM883 333h1v1h-1zM755 334h1v1h-1zM777 334h1v1h-1zM884 334h1v1h-1zM756 335h2v1h-2zM776 335h1v1h-1zM885 335h1v1h-1zM758 336h10v1h-10zM775 336h1v1h-1zM886 336h1v1h-1zM768 337h4v1h-4zM775 337h1v1h-1zM887 337h1v1h-1zM772 338h3v1h-3zM887 338h1v1h-1zM888 339h1v1h-1zM889 340h1v1h-1zM889 341h1v1h-1zM890 342h1v1h-1zM891 343h1v1h-1zM891 344h1v1h-1zM892 345h1v1h-1zM893 346h1v1h-1zM893 347h1v1h-1zM894 348h1v1h-1zM894 349h1v1h-1zM895 350h1v1h-1zM895 351h1v1h-1zM896 352h1v1h-1zM896 353h1v1h-1zM897 354h1v1h-1zM897 355h1v1h-1zM898 356h1v1h-1zM898 357h1v1h-1zM898 358h1v1h-1zM899 359h1v1h-1zM899 360h1v1h-1zM900 361h1v1h-1zM900 362h1v1h-1zM901 363h1v1h-1zM901 364h1v1h-1zM902 365h1v1h-1zM902 366h1v1h-1zM903 367h2v1h-2zM905 368h1v1h-1zM906 369h2v1h-2zM908 370h2v1h-2zM910 371h2v1h-2zM912 372h2v1h-2zM914 373h3v1h-3zM917 374h2v1h-2z" fill="#0000cd"/>
</g>
<g shape-rendering="crispEdges">
<rect x="6" y="177" width="1" height="52" fill="#ff0000" />
<rect x="4" y="203" width="5" height="12" fill="#ff0000" />
<rect x="5" y="204" width="3" height="10" fill="#ff4500" />
<rect x="14" y="189" width="1" height="79" fill="#26c626" />
<rect x="12" y="203" width="5" height="60" fill="#26c626" />
<rect x="13" y="204" width="3" height="58" fill="#32cd32" />
<rect x="22" y="259" width="1" height="19" fill="#26c626" />
<rect x="20" y="262" width="5" height="14" fill="#26c626" />
<rect x="21" y="263" width="3" height="12" fill="#32cd32" />
<rect x="30" y="224" width="1" height="55" fill="#ff0000" />
<rect x="28" y="264" width="5" height="5" fill="#ff0000" />
<rect x="29" y="265" width="3" height="3" fill="#ff4500" />
<rect x="38" y="257" width="1" height="58" fill="#26c626" />
<rect x="36" y="264" width="5" height="49" fill="#26c626" />
<rect x="37" y="265" width="3" height="47" fill="#32cd32" />
<rect x="46" y="299" width="1" height="35" fill="#26c626" />
<rect x="44" y="310" width="5" height="17" fill="#26c626" />
<rect x="45" y="311" width="3" height="15" fill="#32cd32" />
<rect x="54" y="207" width="1" height="124" fill="#ff0000" />
<rect x="52" y="221" width="5" height="106" fill="#ff0000" />
<rect x="53" y="222" width="3" height="104" fill="#ff4500" />
<rect x="62" y="208" width="1" height="78" fill="#26c626" />
<rect x="60" y="221" width="5" height="60" fill="#26c626" />
<rect x="61" y="222" width="3" height="58" fill="#32cd32" />
<rect x="70" y="277" width="1" height="21" fill="#26c626" />
<rect x="68" y="280" width="5" height="15" fill="#26c626" />
<rect x="69" y="281" width="3" height="13" fill="#32cd32" />
<rect x="78" y="227" width="1" height="59" fill="#ff0000" />
<rect x="76" y="258" width="5" height="15" fill="#ff0000" />
<rect x="77" y="259" width="3" height="13" fill="#ff4500" />
<rect x="86" y="191" width="1" height="76" fill="#ff0000" />
<rect x="84" y="255" width="5" height="5" fill="#ff0000" />
<rect x="85" y="256" width="3" height="3" fill="#ff4500" />
<rect x="94" y="244" width="1" height="50" fill="#26c626" />
<rect x="92" y="255" width="5" height="9" fill="#26c626" />
<rect x="93" y="256" width="3" height="7" fill="#32cd32" />
<rect x="102" y="197" width="1" height="87" fill="#ff0000" />
<rect x="100" y="225" width="5" height="40" fill="#ff0000" />
<rect x="101" y="226" width="3" height="38" fill="#ff4500" />
<rect x="110" y="195" width="1" height="55" fill="#ff0000" />
<rect x="108" y="217" width="5" height="10" fill="#ff0000" />
<rect x="109" y="218" width="3" height="8" fill="#ff4500" />
<rect x="118" y="187" width="1" height="40" fill="#ff0000" />
<rect x="116" y="187" width="5" height="32" fill="#ff0000" />
<rect x="117" y="188" width="3" height="30" fill="#ff4500" />
<rect x="126" y="169" width="1" height="66" fill="#26c626" />
<rect x="124" y="210" width="5" height="24" fill="#26c626" />
<rect x="125" y="211" width="3" height="22" fill="#32cd32" />
<rect x="134" y="208" width="1" height="79" fill="#26c626" />
<rect x="132" y="232" width="5" height="50" fill="#26c626" />
<rect x="133" y="233" width="3" height="48" fill="#32cd32" />
<rect x="142" y="228" width="1" height="70" fill="#ff0000" />
<rect x="140" y="241" width="5" height="42" fill="#ff0000" />
<rect x="141" y="242" width="3" height="40" fill="#ff4500" />
<rect x="150" y="215" width="1" height="59" fill="#26c626" />
<rect x="148" y="241" width="5" height="19" fill="#26c626" />
<rect x="149" y="242" width="3" height="17" fill="#32cd32" />
<rect x="158" y="235" width="1" height="97" fill="#26c626" />
<rect x="156" y="258" width="5" height="48" fill="#26c626" />
<rect x="157" y="259" width="3" height="46" fill="#32cd32" />
<rect x="166" y="294" width="1" height="16" fill="#ff0000" />
<rect x="164" y="299" width="5" height="7" fill="#ff0000" />
<rect x="165" y="300" width="3" height="5" fill="#ff4500" />
<rect x="174" y="252" width="1" height="48" fill="#ff0000" />
<rect x="172" y="268" width="5" height="30" fill="#ff0000" />
<rect x="173" y="269" width="3" height="28" fill="#ff4500" />
<rect x="182" y="206" width="1" height="69" fill="#ff0000" />
<rect x="180" y="242" width="5" height="28" fill="#ff0000" />
<rect x="181" y="243" width="3" height="26" fill="#ff4500" />
<rect x="190" y="172" width="1" height="85" fill="#ff0000" />
<rect x="188" y="189" width="5" height="53" fill="#ff0000" />
<rect x="189" y="190" width="3" height="51" fill="#ff4500" />
<rect x="198" y="128" width="1" height="114" fill="#26c626" />
<rect x="196" y="189" width="5" height="5" fill="#26c626" />
<rect x="197" y="190" width="3" height="3" fill="#32cd32" />
<rect x="206" y="129" width="1" height="98" fill="#26c626" />
<rect x="204" y="193" width="5" height="2" fill="#26c626" />
<rect x="214" y="189" width="1" height="57" fill="#26c626" />
<rect x="212" y="195" width="5" height="44" fill="#26c626" />
<rect x="213" y="196" width="3" height="42" fill="#32cd32" />
<rect x="222" y="173" width="1" height="70" fill="#ff0000" />
<rect x="220" y="196" width="5" height="43" fill="#ff0000" />
<rect x="221" y="197" width="3" height="41" fill="#ff4500" />
<rect x="230" y="188" width="1" height="30" fill="#26c626" />
<rect x="228" y="196" width="5" height="16" fill="#26c626" />
<rect x="229" y="197" width="3" height="14" fill="#32cd32" />
<rect x="238" y="190" width="1" height="43" fill="#26c626" />
<rect x="236" y="201" width="5" height="3" fill="#26c626" />
<rect x="237" y="202" width="3" height="1" fill="#32cd32" />
<rect x="246" y="175" width="1" height="89" fill="#26c626" />
<rect x="244" y="202" width="5" height="8" fill="#26c626" />
<rect x="245" y="203" width="3" height="6" fill="#32cd32" />
<rect x="254" y="141" width="1" height="70" fill="#ff0000" />
<rect x="252" y="175" width="5" height="35" fill="#ff0000" />
<rect x="253" y="176" width="3" height="33" fill="#ff4500" />
<rect x="262" y="163" width="1" height="19" fill="#ff0000" />
<rect x="260" y="170" width="5" height="6" fill="#ff0000" />
<rect x="261" y="171" width="3" height="4" fill="#ff4500" />
<rect x="270" y="147" width="1" height="43" fill="#26c626" />
<rect x="268" y="172" width="5" height="6" fill="#26c626" />
<rect x="269" y="173" width="3" height="4" fill="#32cd32" />
<rect x="278" y="146" width="1" height="39" fill="#ff0000" />
<rect x="276" y="149" width="5" height="29" fill="#ff0000" />
<rect x="277" y="150" width="3" height="27" fill="#ff4500" />
<rect x="286" y="118" width="1" height="146" fill="#26c626" />
<rect x="284" y="152" width="5" height="102" fill="#26c626" />
<rect x="285" y="153" width="3" height="100" fill="#32cd32" />
<rect x="294" y="200" width="1" height="95" fill="#ff0000" />
<rect x="292" y="215" width="5" height="39" fill="#ff0000" />
<rect x="293" y="216" width="3" height="37" fill="#ff4500" />
<rect x="302" y="191" width="1" height="70" fill="#ff0000" />
<rect x="300" y="198" width="5" height="19" fill="#ff0000" />
<rect x="301" y="199" width="3" height="17" fill="#ff4500" />
<rect x="310" y="192" width="1" height="24" fill="#26c626" />
<rect x="308" y="199" width="5" height="11" fill="#26c626" />
<rect x="309" y="200" width="3" height="9" fill="#32cd32" />
<rect x="318" y="141" width="1" height="65" fill="#ff0000" />
<rect x="316" y="149" width="5" height="57" fill="#ff0000" />
<rect x="317" y="150" width="3" height="55" fill="#ff4500" />
<rect x="326" y="130" width="1" height="58" fill="#26c626" />
<rect x="324" y="149" width="5" height="23" fill="#26c626" />
<rect x="325" y="150" width="3" height="21" fill="#32cd32" />
<rect x="334" y="78" width="1" height="98" fill="#ff0000" />
<rect x="332" y="106" width="5" height="65" fill="#ff0000" />
<rect x="333" y="107" width="3" height="63" fill="#ff4500" />
<rect x="342" y="50" width="1" height="59" fill="#ff0000" />
<rect x="340" y="94" width="5" height="13" fill="#ff0000" />
<rect x="341" y="95" width="3" height="11" fill="#ff4500" />
<rect x="350" y="78" width="1" height="74" fill="#26c626" />
<rect x="348" y="94" width="5" height="44" fill="#26c626" />
<rect x="349" y="95" width="3" height="42" fill="#32cd32" />
<rect x="358" y="128" width="1" height="24" fill="#26c626" />
<rect x="356" y="136" width="5" height="14" fill="#26c626" />
<rect x="357" y="137" width="3" height="12" fill="#32cd32" />
<rect x="366" y="132" width="1" height="31" fill="#ff0000" />
<rect x="364" y="146" width="5" height="4" fill="#ff0000" />
<rect x="365" y="147" width="3" height="2" fill="#ff4500" />
<rect x="374" y="125" width="1" height="73" fill="#26c626" />
<rect x="372" y="146" width="5" height="28" fill="#26c626" />
<rect x="373" y="147" width="3" height="26" fill="#32cd32" />
<rect x="382" y="171" width="1" height="60" fill="#26c626" />
<rect x="380" y="171" width="5" height="45" fill="#26c626" />
<rect x="381" y="172" width="3" height="43" fill="#32cd32" />
<rect x="390" y="199" width="1" height="39" fill="#26c626" />
<rect x="388" y="213" width="5" height="15" fill="#26c626" />
<rect x="389" y="214" width="3" height="13" fill="#32cd32" />
<rect x="398" y="199" width="1" height="48" fill="#26c626" />
<rect x="396" y="227" width="5" height="14" fill="#26c626" />
<rect x="397" y="228" width="3" height="12" fill="#32cd32" />
<rect x="406" y="234" width="1" height="20" fill="#ff0000" />
<rect x="404" y="236" width="5" height="5" fill="#ff0000" />
<rect x="405" y="237" width="3" height="3" fill="#ff4500" />
<rect x="414" y="217" width="1" height="33" fill="#26c626" />
<rect x="412" y="241" width="5" height="4" fill="#26c626" />
<rect x="413" y="242" width="3" height="2" fill="#32cd32" />
<rect x="422" y="234" width="1" height="36" fill="#26c626" />
<rect x="420" y="242" width="5" height="9" fill="#26c626" />
<rect x="421" y="243" width="3" height="7" fill="#32cd32" />
<rect x="430" y="218" width="1" height="38" fill="#ff0000" />
<rect x="428" y="228" width="5" height="22" fill="#ff0000" />
<rect x="429" y="229" width="3" height="20" fill="#ff4500" />
<rect x="438" y="214" width="1" height="83" fill="#26c626" />
<rect x="436" y="228" width="5" height="25" fill="#26c626" />
<rect x="437" y="229" width="3" height="23" fill="#32cd32" />
<rect x="446" y="201" width="1" height="112" fill="#ff0000" />
<rect x="444" y="211" width="5" height="42" fill="#ff0000" />
<rect x="445" y="212" width="3" height="40" fill="#ff4500" />
<rect x="454" y="195" width="1" height="19" fill="#ff0000" />
<rect x="452" y="195" width="5" height="18" fill="#ff0000" />
<rect x="453" y="196" width="3" height="16" fill="#ff4500" />
<rect x="462" y="173" width="1" height="47" fill="#ff0000" />
<rect x="460" y="175" width="5" height="27" fill="#ff0000" />
<rect x="461" y="176" width="3" height="25" fill="#ff4500" />
<rect x="470" y="162" width="1" height="38" fill="#26c626" />
<rect x="468" y="174" width="5" height="22" fill="#26c626" />
<rect x="469" y="175" width="3" height="20" fill="#32cd32" />
<rect x="478" y="162" width="1" height="42" fill="#ff0000" />
<rect x="476" y="185" width="5" height="11" fill="#ff0000" />
<rect x="477" y="186" width="3" height="9" fill="#ff4500" />
<rect x="486" y="102" width="1" height="96" fill="#ff0000" />
<rect x="484" y="138" width="5" height="49" fill="#ff0000" />
<rect x="485" y="139" width="3" height="47" fill="#ff4500" />
<rect x="494" y="128" width="1" height="50" fill="#26c626" />
<rect x="492" y="138" width="5" height="8" fill="#26c626" />
<rect x="493" y="139" width="3" height="6" fill="#32cd32" />
<rect x="502" y="126" width="1" height="33" fill="#26c626" />
<rect x="500" y="144" width="5" height="11" fill="#26c626" />
<rect x="501" y="145" width="3" height="9" fill="#32cd32" />
<rect x="510" y="152" width="1" height="35" fill="#26c626" />
<rect x="508" y="158" width="5" height="26" fill="#26c626" />
<rect x="509" y="159" width="3" height="24" fill="#32cd32" />
<rect x="518" y="172" width="1" height="34" fill="#26c626" />
<rect x="516" y="181" width="5" height="23" fill="#26c626" />
<rect x="517" y="182" width="3" height="21" fill="#32cd32" />
<rect x="526" y="192" width="1" height="41" fill="#26c626" />
<rect x="524" y="202" width="5" height="30" fill="#26c626" />
<rect x="525" y="203" width="3" height="28" fill="#32cd32" />
<rect x="534" y="225" width="1" height="56" fill="#26c626" />
<rect x="532" y="230" width="5" height="21" fill="#26c626" />
<rect x="533" y="231" width="3" height="19" fill="#32cd32" />
<rect x="542" y="246" width="1" height="36" fill="#26c626" />
<rect x="540" y="249" width="5" height="28" fill="#26c626" />
<rect x="541" y="250" width="3" height="26" fill="#32cd32" />
<rect x="550" y="271" width="1" height="12" fill="#26c626" />
<rect x="548" y="276" width="5" height="5" fill="#26c626" />
<rect x="549" y="277" width="3" height="3" fill="#32cd32" />
<rect x="558" y="274" width="1" height="55" fill="#26c626" />
<rect x="556" y="284" width="5" height="42" fill="#26c626" />
<rect x="557" y="285" width="3" height="40" fill="#32cd32" />
<rect x="566" y="298" width="1" height="45" fill="#ff0000" />
<rect x="564" y="303" width="5" height="23" fill="#ff0000" />
<rect x="565" y="304" width="3" height="21" fill="#ff4500" />
<rect x="574" y="263" width="1" height="58" fill="#26c626" />
<rect x="572" y="302" width="5" height="13" fill="#26c626" />
<rect x="573" y="303" width="3" height="11" fill="#32cd32" />
<rect x="582" y="292" width="1" height="58" fill="#26c626" />
<rect x="580" y="314" width="5" height="12" fill="#26c626" />
<rect x="581" y="315" width="3" height="10" fill="#32cd32" />
<rect x="590" y="299" width="1" height="66" fill="#26c626" />
<rect x="588" y="323" width="5" height="15" fill="#26c626" />
<rect x="589" y="324" width="3" height="13" fill="#32cd32" />
<rect x="598" y="296" width="1" height="44" fill="#ff0000" />
<rect x="596" y="306" width="5" height="31" fill="#ff0000" />
<rect x="597" y="307" width="3" height="29" fill="#ff4500" />
<rect x="606" y="270" width="1" height="43" fill="#ff0000" />
<rect x="604" y="295" width="5" height="18" fill="#ff0000" />
<rect x="605" y="296" width="3" height="16" fill="#ff4500" />
<rect x="614" y="265" width="1" height="61" fill="#ff0000" />
<rect x="612" y="270" width="5" height="27" fill="#ff0000" />
<rect x="613" y="271" width="3" height="25" fill="#ff4500" />
<rect x="622" y="247" width="1" height="36" fill="#ff0000" />
<rect x="620" y="256" width="5" height="15" fill="#ff0000" />
<rect x="621" y="257" width="3" height="13" fill="#ff4500" />
<rect x="630" y="235" width="1" height="49" fill="#26c626" />
<rect x="628" y="255" width="5" height="5" fill="#26c626" />
<rect x="629" y="256" width="3" height="3" fill="#32cd32" />
<rect x="638" y="250" width="1" height="38" fill="#26c626" />
<rect x="636" y="257" width="5" height="9" fill="#26c626" />
<rect x="637" y="258" width="3" height="7" fill="#32cd32" />
<rect x="646" y="250" width="1" height="26" fill="#26c626" />
<rect x="644" y="264" width="5" height="5" fill="#26c626" />
<rect x="645" y="265" width="3" height="3" fill="#32cd32" />
<rect x="654" y="239" width="1" height="32" fill="#ff0000" />
<rect x="652" y="258" width="5" height="12" fill="#ff0000" />
<rect x="653" y="259" width="3" height="10" fill="#ff4500" />
<rect x="662" y="232" width="1" height="37" fill="#ff0000" />
<rect x="660" y="246" width="5" height="14" fill="#ff0000" />
<rect x="661" y="247" width="3" height="12" fill="#ff4500" />
<rect x="670" y="205" width="1" height="48" fill="#ff0000" />
<rect x="668" y="225" width="5" height="24" fill="#ff0000" />
<rect x="669" y="226" width="3" height="22" fill="#ff4500" />
<rect x="678" y="190" width="1" height="59" fill="#ff0000" />
<rect x="676" y="221" width="5" height="6" fill="#ff0000" />
<rect x="677" y="222" width="3" height="4" fill="#ff4500" />
<rect x="686" y="200" width="1" height="54" fill="#26c626" />
<rect x="684" y="220" width="5" height="3" fill="#26c626" />
<rect x="685" y="221" width="3" height="1" fill="#32cd32" />
<rect x="694" y="219" width="1" height="34" fill="#26c626" />
<rect x="692" y="221" width="5" height="29" fill="#26c626" />
<rect x="693" y="222" width="3" height="27" fill="#32cd32" />
<rect x="702" y="226" width="1" height="69" fill="#26c626" />
<rect x="700" y="229" width="5" height="53" fill="#26c626" />
<rect x="701" y="230" width="3" height="51" fill="#32cd32" />
<rect x="710" y="261" width="1" height="50" fill="#26c626" />
<rect x="708" y="280" width="5" height="17" fill="#26c626" />
<rect x="709" y="281" width="3" height="15" fill="#32cd32" />
<rect x="718" y="280" width="1" height="37" fill="#ff0000" />
<rect x="716" y="285" width="5" height="12" fill="#ff0000" />
<rect x="717" y="286" width="3" height="10" fill="#ff4500" />
<rect x="726" y="278" width="1" height="91" fill="#26c626" />
<rect x="724" y="285" width="5" height="82" fill="#26c626" />
<rect x="725" y="286" width="3" height="80" fill="#32cd32" />
<rect x="734" y="357" width="1" height="60" fill="#ff0000" />
<rect x="732" y="361" width="5" height="5" fill="#ff0000" />
<rect x="733" y="362" width="3" height="3" fill="#ff4500" />
<rect x="742" y="352" width="1" height="14" fill="#ff0000" />
<rect x="740" y="355" width="5" height="8" fill="#ff0000" />
<rect x="741" y="356" width="3" height="6" fill="#ff4500" />
<rect x="750" y="340" width="1" height="36" fill="#26c626" />
<rect x="748" y="363" width="5" height="10" fill="#26c626" />
<rect x="749" y="364" width="3" height="8" fill="#32cd32" />
<rect x="758" y="307" width="1" height="69" fill="#ff0000" />
<rect x="756" y="325" width="5" height="48" fill="#ff0000" />
<rect x="757" y="326" width="3" height="46" fill="#ff4500" />
<rect x="766" y="289" width="1" height="39" fill="#ff0000" />
<rect x="764" y="292" width="5" height="31" fill="#ff0000" />
<rect x="765" y="293" width="3" height="29" fill="#ff4500" />
<rect x="774" y="266" width="1" height="43" fill="#26c626" />
<rect x="772" y="293" width="5" height="7" fill="#26c626" />
<rect x="773" y="294" width="3" height="5" fill="#32cd32" />
<rect x="782" y="260" width="1" height="46" fill="#ff0000" />
<rect x="780" y="277" width="5" height="23" fill="#ff0000" />
<rect x="781" y="278" width="3" height="21" fill="#ff4500" />
<rect x="790" y="275" width="1" height="15" fill="#26c626" />
<rect x="788" y="277" width="5" height="8" fill="#26c626" />
<rect x="789" y="278" width="3" height="6" fill="#32cd32" />
<rect x="798" y="246" width="1" height="39" fill="#ff0000" />
<rect x="796" y="267" width="5" height="12" fill="#ff0000" />
<rect x="797" y="268" width="3" height="10" fill="#ff4500" />
<rect x="806" y="244" width="1" height="37" fill="#ff0000" />
<rect x="804" y="258" width="5" height="11" fill="#ff0000" />
<rect x="805" y="259" width="3" height="9" fill="#ff4500" />
<rect x="814" y="240" width="1" height="29" fill="#ff0000" />
<rect x="812" y="252" width="5" height="8" fill="#ff0000" />
<rect x="813" y="253" width="3" height="6" fill="#ff4500" />
<rect x="822" y="164" width="1" height="95" fill="#ff0000" />
<rect x="820" y="245" width="5" height="10" fill="#ff0000" />
<rect x="821" y="246" width="3" height="8" fill="#ff4500" />
<rect x="830" y="217" width="1" height="111" fill="#26c626" />
<rect x="828" y="244" width="5" height="76" fill="#26c626" />
<rect x="829" y="245" width="3" height="74" fill="#32cd32" />
<rect x="838" y="304" width="1" height="17" fill="#ff0000" />
<rect x="836" y="307" width="5" height="12" fill="#ff0000" />
<rect x="837" y="308" width="3" height="10" fill="#ff4500" />
<rect x="846" y="272" width="1" height="42" fill="#ff0000" />
<rect x="844" y="281" width="5" height="26" fill="#ff0000" />
<rect x="845" y="282" width="3" height="24" fill="#ff4500" />
<rect x="854" y="277" width="1" height="47" fill="#26c626" />
<rect x="852" y="281" width="5" height="42" fill="#26c626" />
<rect x="853" y="282" width="3" height="40" fill="#32cd32" />
<rect x="862" y="306" width="1" height="51" fill="#26c626" />
<rect x="860" y="321" width="5" height="28" fill="#26c626" />
<rect x="861" y="322" width="3" height="26" fill="#32cd32" />
<rect x="870" y="332" width="1" height="52" fill="#26c626" />
<rect x="868" y="347" width="5" height="16" fill="#26c626" />
<rect x="869" y="348" width="3" height="14" fill="#32cd32" />
<rect x="878" y="351" width="1" height="36" fill="#26c626" />
<rect x="876" y="361" width="5" height="10" fill="#26c626" />
<rect x="877" y="362" width="3" height="8" fill="#32cd32" />
<rect x="886" y="366" width="1" height="18" fill="#26c626" />
<rect x="884" y="369" width="5" height="14" fill="#26c626" />
<rect x="885" y="370" width="3" height="12" fill="#32cd32" />
<rect x="894" y="348" width="1" height="40" fill="#26c626" />
<rect x="892" y="374" width="5" height="14" fill="#26c626" />
<rect x="893" y="375" width="3" height="12" fill="#32cd32" />
<rect x="902" y="381" width="1" height="31" fill="#26c626" />
<rect x="900" y="386" width="5" height="23" fill="#26c626" />
<rect x="901" y="387" width="3" height="21" fill="#32cd32" />
<rect x="910" y="344" width="1" height="66" fill="#ff0000" />
<rect x="908" y="356" width="5" height="53" fill="#ff0000" />
<rect x="909" y="357" width="3" height="51" fill="#ff4500" />
<rect x="918" y="349" width="1" height="18" fill="#ff0000" />
<rect x="916" y="352" width="5" height="5" fill="#ff0000" />
<rect x="917" y="353" width="3" height="3" fill="#ff4500" />
</g>
<rect x="746" y="243" width="311" height="2" fill="#ff1e1e" />
<rect x="750" y="323" width="301" height="2" fill="#8cc800" />
<rect x="735" y="416" width="329" height="2" fill="#1e82e4" />
<rect x="3" y="28" width="2" height="576" fill="#ffffff" />
<rect x="5" y="30" width="1164" height="1" fill="#000000" />
<rect x="5" y="427" width="1164" height="1" fill="#000000" />
<rect x="5" y="30" width="1" height="398" fill="#000000" />
<rect x="1168" y="30" width="1" height="398" fill="#000000" />
<rect x="5" y="429" width="1164" height="1" fill="#000000" />
<rect x="5" y="497" width="1164" height="1" fill="#000000" />
<rect x="5" y="429" width="1" height="69" fill="#000000" />
<rect x="1168" y="429" width="1" height="69" fill="#000000" />
<rect x="5" y="499" width="1164" height="1" fill="#000000" />
<rect x="5" y="583" width="1164" height="1" fill="#000000" />
<rect x="5" y="499" width="1" height="85" fill="#000000" />
<rect x="1168" y="499" width="1" height="85" fill="#000000" />
<g font-family="'Liberation Sans', Arial, sans-serif">
<rect x="1169" y="61" width="3" height="1" fill="#000000" />
<text x="1174.0" y="65" font-size="9.6" fill="#000" font-weight="normal" text-anchor="start"  textLength="33.3" lengthAdjust="spacingAndGlyphs" stroke="#000" stroke-width="0.15">1.15570</text>
<rect x="1169" y="94" width="3" height="1" fill="#000000" />
<text x="1174.0" y="98" font-size="9.6" fill="#000" font-weight="normal" text-anchor="start"  textLength="33.3" lengthAdjust="spacingAndGlyphs" stroke="#000" stroke-width="0.15">1.15220</text>
<rect x="1169" y="127" width="3" height="1" fill="#000000" />
<text x="1174.0" y="131" font-size="9.6" fill="#000" font-weight="normal" text-anchor="start"  textLength="33.3" lengthAdjust="spacingAndGlyphs" stroke="#000" stroke-width="0.15">1.14860</text>
<rect x="1169" y="160" width="3" height="1" fill="#000000" />
<text x="1174.0" y="164" font-size="9.6" fill="#000" font-weight="normal" text-anchor="start"  textLength="33.3" lengthAdjust="spacingAndGlyphs" stroke="#000" stroke-width="0.15">1.14510</text>
<rect x="1169" y="193" width="3" height="1" fill="#000000" />
<text x="1174.0" y="197" font-size="9.6" fill="#000" font-weight="normal" text-anchor="start"  textLength="33.3" lengthAdjust="spacingAndGlyphs" stroke="#000" stroke-width="0.15">1.14160</text>
<rect x="1169" y="226" width="3" height="1" fill="#000000" />
<text x="1174.0" y="230" font-size="9.6" fill="#000" font-weight="normal" text-anchor="start"  textLength="33.3" lengthAdjust="spacingAndGlyphs" stroke="#000" stroke-width="0.15">1.13800</text>
<rect x="1169" y="259" width="3" height="1" fill="#000000" />
<text x="1174.0" y="263" font-size="9.6" fill="#000" font-weight="normal" text-anchor="start"  textLength="33.3" lengthAdjust="spacingAndGlyphs" stroke="#000" stroke-width="0.15">1.13450</text>
<rect x="1169" y="292" width="3" height="1" fill="#000000" />
<text x="1174.0" y="296" font-size="9.6" fill="#000" font-weight="normal" text-anchor="start"  textLength="33.3" lengthAdjust="spacingAndGlyphs" stroke="#000" stroke-width="0.15">1.13090</text>
<rect x="1169" y="325" width="3" height="1" fill="#000000" />
<text x="1174.0" y="329" font-size="9.6" fill="#000" font-weight="normal" text-anchor="start"  textLength="33.3" lengthAdjust="spacingAndGlyphs" stroke="#000" stroke-width="0.15">1.12740</text>
<rect x="1169" y="358" width="3" height="1" fill="#000000" />
<text x="1174.0" y="362" font-size="9.6" fill="#000" font-weight="normal" text-anchor="start"  textLength="33.3" lengthAdjust="spacingAndGlyphs" stroke="#000" stroke-width="0.15">1.12380</text>
<rect x="1169" y="391" width="3" height="1" fill="#000000" />
<text x="1174.0" y="395" font-size="9.6" fill="#000" font-weight="normal" text-anchor="start"  textLength="33.3" lengthAdjust="spacingAndGlyphs" stroke="#000" stroke-width="0.15">1.12030</text>
<rect x="1169" y="424" width="3" height="1" fill="#000000" />
<text x="1174.0" y="428" font-size="9.6" fill="#000" font-weight="normal" text-anchor="start"  textLength="33.3" lengthAdjust="spacingAndGlyphs" stroke="#000" stroke-width="0.15">1.11680</text>
<rect x="1170" y="347" width="40" height="11" fill="#000" />
<text x="1174.2" y="356" font-size="9.6" fill="#fff" font-weight="normal" text-anchor="start"  textLength="33.1" lengthAdjust="spacingAndGlyphs" stroke="#fff" stroke-width="0.15">1.12446</text>
<rect x="1169" y="431" width="2" height="1" fill="#000000" />
<rect x="1169" y="460" width="2" height="1" fill="#000000" />
<rect x="1169" y="496" width="2" height="1" fill="#000000" />
<text x="1171.8" y="440" font-size="9.6" fill="#000" font-weight="normal" text-anchor="start"  textLength="38.8" lengthAdjust="spacingAndGlyphs" stroke="#000" stroke-width="0.15">0.003095</text>
<text x="1171.8" y="463.7" font-size="9.6" fill="#000" font-weight="normal" text-anchor="start"  textLength="18.6" lengthAdjust="spacingAndGlyphs" stroke="#000" stroke-width="0.15">0.00</text>
<text x="1171.5" y="494" font-size="9.6" fill="#000" font-weight="normal" text-anchor="start"  textLength="42.5" lengthAdjust="spacingAndGlyphs" stroke="#000" stroke-width="0.15">-0.003947</text>
<rect x="1169" y="501" width="2" height="1" fill="#000000" />
<rect x="1169" y="525" width="2" height="1" fill="#000000" />
<rect x="1169" y="558" width="2" height="1" fill="#000000" />
<rect x="1169" y="582" width="2" height="1" fill="#000000" />
<text x="1171.7" y="510.5" font-size="9.6" fill="#000" font-weight="normal" text-anchor="start"  textLength="15.4" lengthAdjust="spacingAndGlyphs" stroke="#000" stroke-width="0.15">100</text>
<text x="1171.3" y="529" font-size="9.6" fill="#000" font-weight="normal" text-anchor="start"  textLength="10.0" lengthAdjust="spacingAndGlyphs" stroke="#000" stroke-width="0.15">70</text>
<text x="1171.3" y="562" font-size="9.6" fill="#000" font-weight="normal" text-anchor="start"  textLength="10.0" lengthAdjust="spacingAndGlyphs" stroke="#000" stroke-width="0.15">30</text>
<text x="1171.7" y="580" font-size="9.6" fill="#000" font-weight="normal" text-anchor="start"  textLength="5.8" lengthAdjust="spacingAndGlyphs" stroke="#000" stroke-width="0.15">0</text>
<rect x="6" y="584" width="1" height="3" fill="#000000" />
<text x="4.8" y="596" font-size="9.6" fill="#000" font-weight="normal" text-anchor="start"  textLength="54.4" lengthAdjust="spacingAndGlyphs" stroke="#000" stroke-width="0.15">22 Nov 2018</text>
<rect x="70" y="584" width="1" height="3" fill="#000000" />
<text x="68.8" y="596" font-size="9.6" fill="#000" font-weight="normal" text-anchor="start"  textLength="47.3" lengthAdjust="spacingAndGlyphs" stroke="#000" stroke-width="0.15">1 Dec 2018</text>
<rect x="134" y="584" width="1" height="3" fill="#000000" />
<text x="132.8" y="596" font-size="9.6" fill="#000" font-weight="normal" text-anchor="start"  textLength="52.6" lengthAdjust="spacingAndGlyphs" stroke="#000" stroke-width="0.15">11 Dec 2018</text>
<rect x="198" y="584" width="1" height="3" fill="#000000" />
<text x="196.8" y="596" font-size="9.6" fill="#000" font-weight="normal" text-anchor="start"  textLength="52.6" lengthAdjust="spacingAndGlyphs" stroke="#000" stroke-width="0.15">20 Dec 2018</text>
<rect x="262" y="584" width="1" height="3" fill="#000000" />
<text x="260.8" y="596" font-size="9.6" fill="#000" font-weight="normal" text-anchor="start"  textLength="52.6" lengthAdjust="spacingAndGlyphs" stroke="#000" stroke-width="0.15">29 Dec 2018</text>
<rect x="326" y="584" width="1" height="3" fill="#000000" />
<text x="324.8" y="596" font-size="9.6" fill="#000" font-weight="normal" text-anchor="start"  textLength="47.3" lengthAdjust="spacingAndGlyphs" stroke="#000" stroke-width="0.15">8 Jan 2019</text>
<rect x="390" y="584" width="1" height="3" fill="#000000" />
<text x="388.8" y="596" font-size="9.6" fill="#000" font-weight="normal" text-anchor="start"  textLength="52.6" lengthAdjust="spacingAndGlyphs" stroke="#000" stroke-width="0.15">17 Jan 2019</text>
<rect x="454" y="584" width="1" height="3" fill="#000000" />
<text x="452.8" y="596" font-size="9.6" fill="#000" font-weight="normal" text-anchor="start"  textLength="52.6" lengthAdjust="spacingAndGlyphs" stroke="#000" stroke-width="0.15">26 Jan 2019</text>
<rect x="518" y="584" width="1" height="3" fill="#000000" />
<text x="516.8" y="596" font-size="9.6" fill="#000" font-weight="normal" text-anchor="start"  textLength="47.3" lengthAdjust="spacingAndGlyphs" stroke="#000" stroke-width="0.15">5 Feb 2019</text>
<rect x="582" y="584" width="1" height="3" fill="#000000" />
<text x="580.8" y="596" font-size="9.6" fill="#000" font-weight="normal" text-anchor="start"  textLength="52.6" lengthAdjust="spacingAndGlyphs" stroke="#000" stroke-width="0.15">14 Feb 2019</text>
<rect x="646" y="584" width="1" height="3" fill="#000000" />
<text x="644.8" y="596" font-size="9.6" fill="#000" font-weight="normal" text-anchor="start"  textLength="52.6" lengthAdjust="spacingAndGlyphs" stroke="#000" stroke-width="0.15">23 Feb 2019</text>
<rect x="710" y="584" width="1" height="3" fill="#000000" />
<text x="708.8" y="596" font-size="9.6" fill="#000" font-weight="normal" text-anchor="start"  textLength="47.3" lengthAdjust="spacingAndGlyphs" stroke="#000" stroke-width="0.15">5 Mar 2019</text>
<rect x="774" y="584" width="1" height="3" fill="#000000" />
<text x="772.8" y="596" font-size="9.6" fill="#000" font-weight="normal" text-anchor="start"  textLength="52.6" lengthAdjust="spacingAndGlyphs" stroke="#000" stroke-width="0.15">14 Mar 2019</text>
<rect x="838" y="584" width="1" height="3" fill="#000000" />
<text x="836.8" y="596" font-size="9.6" fill="#000" font-weight="normal" text-anchor="start"  textLength="52.6" lengthAdjust="spacingAndGlyphs" stroke="#000" stroke-width="0.15">23 Mar 2019</text>
<rect x="902" y="584" width="1" height="3" fill="#000000" />
<text x="900.8" y="596" font-size="9.6" fill="#000" font-weight="normal" text-anchor="start"  textLength="47.3" lengthAdjust="spacingAndGlyphs" stroke="#000" stroke-width="0.15">2 Apr 2019</text>
<text x="21.0" y="42" font-size="9.8" fill="#000" font-weight="normal" text-anchor="start"  textLength="64.1" lengthAdjust="spacingAndGlyphs" stroke="#000" stroke-width="0.15">EURUSD,Daily</text>
<text x="90.9" y="42" font-size="9.8" fill="#000" font-weight="normal" text-anchor="start"  textLength="141.4" lengthAdjust="spacingAndGlyphs" stroke="#000" stroke-width="0.15">1.12409 1.12483 1.12313 1.12446</text>
<polygon points="9.5,40.5 15.5,40.5 12.5,37" fill="#000"/>
<text x="10.2" y="442" font-size="9.6" fill="#000" font-weight="normal" text-anchor="start"  textLength="154.2" lengthAdjust="spacingAndGlyphs" stroke="#000" stroke-width="0.15">MACD(12,26,9) -0.002662 -0.002045</text>
<text x="10.1" y="512" font-size="9.8" fill="#000" font-weight="normal" text-anchor="start"  textLength="67.6" lengthAdjust="spacingAndGlyphs" stroke="#000" stroke-width="0.15">RSI(14) 44.4500</text>
</g>
<g shape-rendering="crispEdges">
<rect x="5" y="460" width="3" height="15" fill="#c0c0c0" />
<rect x="13" y="460" width="3" height="17" fill="#c0c0c0" />
<rect x="21" y="460" width="3" height="20" fill="#c0c0c0" />
<rect x="29" y="460" width="3" height="21" fill="#c0c0c0" />
<rect x="37" y="460" width="3" height="25" fill="#c0c0c0" />
<rect x="45" y="460" width="3" height="28" fill="#c0c0c0" />
<rect x="53" y="460" width="3" height="24" fill="#c0c0c0" />
<rect x="61" y="460" width="3" height="23" fill="#c0c0c0" />
<rect x="69" y="460" width="3" height="24" fill="#c0c0c0" />
<rect x="77" y="460" width="3" height="23" fill="#c0c0c0" />
<rect x="85" y="460" width="3" height="21" fill="#c0c0c0" />
<rect x="93" y="460" width="3" height="19" fill="#c0c0c0" />
<rect x="101" y="460" width="3" height="15" fill="#c0c0c0" />
<rect x="109" y="460" width="3" height="11" fill="#c0c0c0" />
<rect x="117" y="460" width="3" height="5" fill="#c0c0c0" />
<rect x="125" y="460" width="3" height="4" fill="#c0c0c0" />
<rect x="133" y="460" width="3" height="7" fill="#c0c0c0" />
<rect x="141" y="460" width="3" height="6" fill="#c0c0c0" />
<rect x="149" y="460" width="3" height="7" fill="#c0c0c0" />
<rect x="157" y="460" width="3" height="11" fill="#c0c0c0" />
<rect x="165" y="460" width="3" height="13" fill="#c0c0c0" />
<rect x="173" y="460" width="3" height="13" fill="#c0c0c0" />
<rect x="181" y="460" width="3" height="10" fill="#c0c0c0" />
<rect x="189" y="460" width="3" height="4" fill="#c0c0c0" />
<rect x="197" y="458" width="3" height="2" fill="#c0c0c0" />
<rect x="205" y="455" width="3" height="5" fill="#c0c0c0" />
<rect x="213" y="455" width="3" height="5" fill="#c0c0c0" />
<rect x="221" y="453" width="3" height="7" fill="#c0c0c0" />
<rect x="229" y="452" width="3" height="8" fill="#c0c0c0" />
<rect x="237" y="450" width="3" height="10" fill="#c0c0c0" />
<rect x="245" y="450" width="3" height="10" fill="#c0c0c0" />
<rect x="253" y="447" width="3" height="13" fill="#c0c0c0" />
<rect x="261" y="445" width="3" height="15" fill="#c0c0c0" />
<rect x="269" y="443" width="3" height="17" fill="#c0c0c0" />
<rect x="277" y="440" width="3" height="20" fill="#c0c0c0" />
<rect x="285" y="446" width="3" height="14" fill="#c0c0c0" />
<rect x="293" y="448" width="3" height="12" fill="#c0c0c0" />
<rect x="301" y="449" width="3" height="11" fill="#c0c0c0" />
<rect x="309" y="450" width="3" height="10" fill="#c0c0c0" />
<rect x="317" y="447" width="3" height="13" fill="#c0c0c0" />
<rect x="325" y="445" width="3" height="15" fill="#c0c0c0" />
<rect x="333" y="439" width="3" height="21" fill="#c0c0c0" />
<rect x="341" y="434" width="3" height="26" fill="#c0c0c0" />
<rect x="349" y="434" width="3" height="26" fill="#c0c0c0" />
<rect x="357" y="434" width="3" height="26" fill="#c0c0c0" />
<rect x="365" y="435" width="3" height="25" fill="#c0c0c0" />
<rect x="373" y="438" width="3" height="22" fill="#c0c0c0" />
<rect x="381" y="444" width="3" height="16" fill="#c0c0c0" />
<rect x="389" y="450" width="3" height="10" fill="#c0c0c0" />
<rect x="397" y="456" width="3" height="4" fill="#c0c0c0" />
<rect x="405" y="460" width="3" height="1" fill="#c0c0c0" />
<rect x="413" y="460" width="3" height="5" fill="#c0c0c0" />
<rect x="421" y="460" width="3" height="8" fill="#c0c0c0" />
<rect x="429" y="460" width="3" height="9" fill="#c0c0c0" />
<rect x="437" y="460" width="3" height="11" fill="#c0c0c0" />
<rect x="445" y="460" width="3" height="10" fill="#c0c0c0" />
<rect x="453" y="460" width="3" height="8" fill="#c0c0c0" />
<rect x="461" y="460" width="3" height="4" fill="#c0c0c0" />
<rect x="469" y="460" width="3" height="3" fill="#c0c0c0" />
<rect x="477" y="460" width="3" height="1" fill="#c0c0c0" />
<rect x="485" y="455" width="3" height="5" fill="#c0c0c0" />
<rect x="493" y="451" width="3" height="9" fill="#c0c0c0" />
<rect x="501" y="449" width="3" height="11" fill="#c0c0c0" />
<rect x="509" y="450" width="3" height="10" fill="#c0c0c0" />
<rect x="517" y="453" width="3" height="7" fill="#c0c0c0" />
<rect x="525" y="456" width="3" height="4" fill="#c0c0c0" />
<rect x="533" y="460" width="3" height="3" fill="#c0c0c0" />
<rect x="541" y="460" width="3" height="9" fill="#c0c0c0" />
<rect x="549" y="460" width="3" height="14" fill="#c0c0c0" />
<rect x="557" y="460" width="3" height="21" fill="#c0c0c0" />
<rect x="565" y="460" width="3" height="24" fill="#c0c0c0" />
<rect x="573" y="460" width="3" height="28" fill="#c0c0c0" />
<rect x="581" y="460" width="3" height="30" fill="#c0c0c0" />
<rect x="589" y="460" width="3" height="34" fill="#c0c0c0" />
<rect x="597" y="460" width="3" height="34" fill="#c0c0c0" />
<rect x="605" y="460" width="3" height="32" fill="#c0c0c0" />
<rect x="613" y="460" width="3" height="28" fill="#c0c0c0" />
<rect x="621" y="460" width="3" height="24" fill="#c0c0c0" />
<rect x="629" y="460" width="3" height="21" fill="#c0c0c0" />
<rect x="637" y="460" width="3" height="19" fill="#c0c0c0" />
<rect x="645" y="460" width="3" height="17" fill="#c0c0c0" />
<rect x="653" y="460" width="3" height="15" fill="#c0c0c0" />
<rect x="661" y="460" width="3" height="12" fill="#c0c0c0" />
<rect x="669" y="460" width="3" height="8" fill="#c0c0c0" />
<rect x="677" y="460" width="3" height="4" fill="#c0c0c0" />
<rect x="685" y="460" width="3" height="1" fill="#c0c0c0" />
<rect x="693" y="460" width="3" height="1" fill="#c0c0c0" />
<rect x="701" y="460" width="3" height="3" fill="#c0c0c0" />
<rect x="709" y="460" width="3" height="6" fill="#c0c0c0" />
<rect x="717" y="460" width="3" height="6" fill="#c0c0c0" />
<rect x="725" y="460" width="3" height="16" fill="#c0c0c0" />
<rect x="733" y="460" width="3" height="21" fill="#c0c0c0" />
<rect x="741" y="460" width="3" height="24" fill="#c0c0c0" />
<rect x="749" y="460" width="3" height="28" fill="#c0c0c0" />
<rect x="757" y="460" width="3" height="26" fill="#c0c0c0" />
<rect x="765" y="460" width="3" height="24" fill="#c0c0c0" />
<rect x="773" y="460" width="3" height="20" fill="#c0c0c0" />
<rect x="781" y="460" width="3" height="17" fill="#c0c0c0" />
<rect x="789" y="460" width="3" height="14" fill="#c0c0c0" />
<rect x="797" y="460" width="3" height="10" fill="#c0c0c0" />
<rect x="805" y="460" width="3" height="6" fill="#c0c0c0" />
<rect x="813" y="460" width="3" height="3" fill="#c0c0c0" />
<rect x="821" y="459" width="3" height="1" fill="#c0c0c0" />
<rect x="829" y="460" width="3" height="3" fill="#c0c0c0" />
<rect x="837" y="460" width="3" height="5" fill="#c0c0c0" />
<rect x="845" y="460" width="3" height="4" fill="#c0c0c0" />
<rect x="853" y="460" width="3" height="5" fill="#c0c0c0" />
<rect x="861" y="460" width="3" height="10" fill="#c0c0c0" />
<rect x="869" y="460" width="3" height="14" fill="#c0c0c0" />
<rect x="877" y="460" width="3" height="18" fill="#c0c0c0" />
<rect x="885" y="460" width="3" height="22" fill="#c0c0c0" />
<rect x="893" y="460" width="3" height="24" fill="#c0c0c0" />
<rect x="901" y="460" width="3" height="28" fill="#c0c0c0" />
<rect x="909" y="460" width="3" height="26" fill="#c0c0c0" />
<rect x="917" y="460" width="3" height="24" fill="#c0c0c0" />
</g>
<rect x="3" y="430" width="3" height="67" fill="#ffffff" />
<rect x="5" y="429" width="1" height="69" fill="#000000" />
<g shape-rendering="crispEdges">
<path d="M372 440h26v1h-26zM364 441h8v1h-8zM398 441h4v1h-4zM356 442h8v1h-8zM402 442h4v1h-4zM348 443h8v1h-8zM406 443h2v1h-2zM340 444h8v1h-8zM408 444h2v1h-2zM332 445h8v1h-8zM410 445h3v1h-3zM321 446h11v1h-11zM413 446h2v1h-2zM286 447h35v1h-35zM415 447h2v1h-2zM278 448h8v1h-8zM417 448h2v1h-2zM274 449h4v1h-4zM419 449h2v1h-2zM270 450h4v1h-4zM421 450h2v1h-2zM266 451h4v1h-4zM423 451h2v1h-2zM262 452h4v1h-4zM425 452h2v1h-2zM257 453h5v1h-5zM427 453h2v1h-2zM253 454h4v1h-4zM429 454h2v1h-2zM249 455h4v1h-4zM431 455h2v1h-2zM247 456h2v1h-2zM433 456h2v1h-2zM526 456h20v1h-20zM244 457h3v1h-3zM435 457h2v1h-2zM518 457h8v1h-8zM546 457h4v1h-4zM242 458h2v1h-2zM437 458h2v1h-2zM514 458h4v1h-4zM550 458h4v1h-4zM238 459h4v1h-4zM439 459h2v1h-2zM510 459h4v1h-4zM554 459h4v1h-4zM232 460h6v1h-6zM441 460h3v1h-3zM506 460h4v1h-4zM558 460h2v1h-2zM227 461h5v1h-5zM444 461h3v1h-3zM502 461h4v1h-4zM560 461h3v1h-3zM222 462h5v1h-5zM447 462h2v1h-2zM498 462h4v1h-4zM563 462h2v1h-2zM217 463h5v1h-5zM449 463h3v1h-3zM493 463h5v1h-5zM565 463h2v1h-2zM213 464h4v1h-4zM452 464h3v1h-3zM488 464h5v1h-5zM567 464h2v1h-2zM864 464h6v1h-6zM208 465h5v1h-5zM455 465h8v1h-8zM483 465h5v1h-5zM569 465h1v1h-1zM717 465h6v1h-6zM857 465h7v1h-7zM870 465h4v1h-4zM203 466h5v1h-5zM463 466h20v1h-20zM570 466h2v1h-2zM711 466h6v1h-6zM723 466h6v1h-6zM851 466h6v1h-6zM874 466h5v1h-5zM172 467h31v1h-31zM572 467h2v1h-2zM706 467h5v1h-5zM729 467h6v1h-6zM845 467h6v1h-6zM879 467h5v1h-5zM162 468h10v1h-10zM574 468h2v1h-2zM701 468h5v1h-5zM735 468h5v1h-5zM839 468h6v1h-6zM884 468h4v1h-4zM153 469h9v1h-9zM576 469h1v1h-1zM697 469h4v1h-4zM740 469h4v1h-4zM835 469h4v1h-4zM888 469h3v1h-3zM149 470h4v1h-4zM577 470h2v1h-2zM693 470h4v1h-4zM744 470h3v1h-3zM832 470h3v1h-3zM891 470h4v1h-4zM145 471h4v1h-4zM579 471h2v1h-2zM690 471h3v1h-3zM747 471h4v1h-4zM829 471h3v1h-3zM895 471h3v1h-3zM141 472h4v1h-4zM581 472h1v1h-1zM688 472h2v1h-2zM751 472h3v1h-3zM826 472h3v1h-3zM898 472h2v1h-2zM137 473h4v1h-4zM582 473h2v1h-2zM685 473h3v1h-3zM754 473h2v1h-2zM823 473h3v1h-3zM900 473h3v1h-3zM133 474h4v1h-4zM584 474h2v1h-2zM682 474h3v1h-3zM756 474h2v1h-2zM820 474h3v1h-3zM903 474h2v1h-2zM129 475h4v1h-4zM586 475h2v1h-2zM680 475h2v1h-2zM758 475h3v1h-3zM817 475h3v1h-3zM905 475h3v1h-3zM125 476h4v1h-4zM588 476h2v1h-2zM677 476h3v1h-3zM761 476h2v1h-2zM814 476h3v1h-3zM908 476h4v1h-4zM121 477h4v1h-4zM590 477h2v1h-2zM674 477h3v1h-3zM763 477h4v1h-4zM810 477h4v1h-4zM912 477h3v1h-3zM117 478h4v1h-4zM592 478h2v1h-2zM672 478h2v1h-2zM767 478h5v1h-5zM806 478h4v1h-4zM915 478h1v1h-1zM112 479h5v1h-5zM594 479h3v1h-3zM669 479h3v1h-3zM772 479h5v1h-5zM802 479h4v1h-4zM916 479h2v1h-2zM46 480h7v1h-7zM108 480h4v1h-4zM597 480h2v1h-2zM666 480h3v1h-3zM777 480h25v1h-25zM918 480h1v1h-1zM41 481h5v1h-5zM53 481h8v1h-8zM103 481h5v1h-5zM599 481h3v1h-3zM663 481h3v1h-3zM34 482h7v1h-7zM61 482h18v1h-18zM98 482h5v1h-5zM602 482h2v1h-2zM660 482h3v1h-3zM29 483h5v1h-5zM79 483h19v1h-19zM604 483h3v1h-3zM657 483h3v1h-3zM26 484h3v1h-3zM607 484h2v1h-2zM653 484h4v1h-4zM24 485h2v1h-2zM609 485h3v1h-3zM647 485h6v1h-6zM21 486h3v1h-3zM612 486h2v1h-2zM642 486h5v1h-5zM18 487h3v1h-3zM614 487h8v1h-8zM634 487h8v1h-8zM16 488h2v1h-2zM622 488h12v1h-12zM14 489h2v1h-2zM12 490h2v1h-2zM10 491h2v1h-2zM9 492h1v1h-1zM7 493h2v1h-2zM6 494h1v1h-1z" fill="#ff0000"/>
</g>
<line x1="7" y1="525.5" x2="1168" y2="525.5" stroke="#bcbcbc" stroke-width="1" stroke-dasharray="3,3" shape-rendering="crispEdges"/>
<line x1="7" y1="558.5" x2="1168" y2="558.5" stroke="#bcbcbc" stroke-width="1" stroke-dasharray="3,3" shape-rendering="crispEdges"/>
<g shape-rendering="crispEdges">
<path d="M340 531h3v1h-3zM336 532h4v1h-4zM343 532h2v1h-2zM277 533h2v1h-2zM333 533h3v1h-3zM345 533h1v1h-1zM274 534h3v1h-3zM279 534h1v1h-1zM331 534h2v1h-2zM346 534h2v1h-2zM486 534h10v1h-10zM254 535h12v1h-12zM272 535h2v1h-2zM279 535h1v1h-1zM318 535h2v1h-2zM329 535h2v1h-2zM348 535h2v1h-2zM484 535h2v1h-2zM496 535h4v1h-4zM676 535h6v1h-6zM818 535h5v1h-5zM117 536h2v1h-2zM190 536h12v1h-12zM252 536h2v1h-2zM266 536h6v1h-6zM280 536h1v1h-1zM316 536h2v1h-2zM320 536h4v1h-4zM327 536h2v1h-2zM350 536h2v1h-2zM482 536h2v1h-2zM500 536h4v1h-4zM672 536h4v1h-4zM682 536h5v1h-5zM810 536h8v1h-8zM823 536h1v1h-1zM114 537h3v1h-3zM119 537h2v1h-2zM188 537h2v1h-2zM202 537h5v1h-5zM221 537h3v1h-3zM250 537h2v1h-2zM281 537h1v1h-1zM315 537h1v1h-1zM324 537h3v1h-3zM352 537h4v1h-4zM481 537h1v1h-1zM504 537h2v1h-2zM669 537h3v1h-3zM687 537h2v1h-2zM804 537h6v1h-6zM823 537h1v1h-1zM112 538h2v1h-2zM121 538h1v1h-1zM186 538h2v1h-2zM207 538h2v1h-2zM219 538h2v1h-2zM224 538h4v1h-4zM234 538h6v1h-6zM249 538h1v1h-1zM281 538h1v1h-1zM314 538h1v1h-1zM356 538h12v1h-12zM460 538h4v1h-4zM479 538h2v1h-2zM506 538h3v1h-3zM666 538h3v1h-3zM689 538h1v1h-1zM800 538h4v1h-4zM824 538h1v1h-1zM106 539h6v1h-6zM122 539h2v1h-2zM185 539h1v1h-1zM209 539h2v1h-2zM217 539h2v1h-2zM228 539h6v1h-6zM240 539h4v1h-4zM247 539h2v1h-2zM282 539h1v1h-1zM312 539h2v1h-2zM368 539h2v1h-2zM456 539h4v1h-4zM464 539h4v1h-4zM474 539h5v1h-5zM509 539h2v1h-2zM664 539h2v1h-2zM690 539h2v1h-2zM796 539h4v1h-4zM825 539h1v1h-1zM102 540h4v1h-4zM124 540h2v1h-2zM183 540h2v1h-2zM211 540h2v1h-2zM215 540h2v1h-2zM244 540h3v1h-3zM283 540h1v1h-1zM298 540h8v1h-8zM311 540h1v1h-1zM370 540h3v1h-3zM453 540h3v1h-3zM468 540h6v1h-6zM511 540h2v1h-2zM660 540h4v1h-4zM692 540h2v1h-2zM792 540h4v1h-4zM825 540h1v1h-1zM6 541h1v1h-1zM54 541h1v1h-1zM100 541h2v1h-2zM126 541h1v1h-1zM181 541h2v1h-2zM213 541h2v1h-2zM283 541h1v1h-1zM293 541h5v1h-5zM306 541h5v1h-5zM373 541h2v1h-2zM450 541h3v1h-3zM513 541h2v1h-2zM656 541h4v1h-4zM694 541h1v1h-1zM781 541h11v1h-11zM826 541h1v1h-1zM845 541h2v1h-2zM7 542h1v1h-1zM53 542h1v1h-1zM55 542h2v1h-2zM98 542h2v1h-2zM127 542h2v1h-2zM141 542h5v1h-5zM178 542h3v1h-3zM284 542h1v1h-1zM291 542h2v1h-2zM375 542h2v1h-2zM448 542h2v1h-2zM515 542h2v1h-2zM653 542h3v1h-3zM695 542h1v1h-1zM778 542h3v1h-3zM827 542h1v1h-1zM843 542h2v1h-2zM847 542h1v1h-1zM8 543h2v1h-2zM53 543h1v1h-1zM57 543h2v1h-2zM97 543h1v1h-1zM129 543h1v1h-1zM139 543h2v1h-2zM146 543h5v1h-5zM176 543h2v1h-2zM285 543h1v1h-1zM289 543h2v1h-2zM377 543h2v1h-2zM446 543h2v1h-2zM517 543h2v1h-2zM618 543h16v1h-16zM650 543h3v1h-3zM696 543h2v1h-2zM776 543h2v1h-2zM827 543h1v1h-1zM841 543h2v1h-2zM848 543h1v1h-1zM10 544h1v1h-1zM52 544h1v1h-1zM59 544h2v1h-2zM77 544h13v1h-13zM95 544h2v1h-2zM130 544h2v1h-2zM137 544h2v1h-2zM151 544h2v1h-2zM173 544h3v1h-3zM285 544h1v1h-1zM287 544h2v1h-2zM379 544h2v1h-2zM444 544h2v1h-2zM519 544h2v1h-2zM613 544h5v1h-5zM634 544h8v1h-8zM648 544h2v1h-2zM698 544h1v1h-1zM765 544h11v1h-11zM828 544h1v1h-1zM839 544h2v1h-2zM849 544h1v1h-1zM11 545h1v1h-1zM51 545h1v1h-1zM61 545h3v1h-3zM74 545h3v1h-3zM90 545h5v1h-5zM132 545h2v1h-2zM135 545h2v1h-2zM153 545h2v1h-2zM170 545h3v1h-3zM286 545h1v1h-1zM381 545h5v1h-5zM443 545h1v1h-1zM521 545h2v1h-2zM611 545h2v1h-2zM642 545h6v1h-6zM699 545h1v1h-1zM762 545h3v1h-3zM829 545h1v1h-1zM836 545h3v1h-3zM850 545h2v1h-2zM12 546h2v1h-2zM50 546h1v1h-1zM64 546h4v1h-4zM72 546h2v1h-2zM134 546h1v1h-1zM155 546h2v1h-2zM168 546h2v1h-2zM386 546h8v1h-8zM428 546h4v1h-4zM442 546h1v1h-1zM523 546h2v1h-2zM609 546h2v1h-2zM700 546h2v1h-2zM760 546h2v1h-2zM829 546h1v1h-1zM832 546h4v1h-4zM852 546h1v1h-1zM916 546h3v1h-3zM14 547h2v1h-2zM28 547h4v1h-4zM50 547h1v1h-1zM68 547h4v1h-4zM157 547h11v1h-11zM394 547h16v1h-16zM424 547h4v1h-4zM432 547h2v1h-2zM440 547h2v1h-2zM525 547h3v1h-3zM607 547h2v1h-2zM702 547h1v1h-1zM758 547h2v1h-2zM830 547h2v1h-2zM853 547h1v1h-1zM912 547h4v1h-4zM16 548h4v1h-4zM24 548h4v1h-4zM32 548h2v1h-2zM49 548h1v1h-1zM410 548h14v1h-14zM434 548h3v1h-3zM439 548h1v1h-1zM528 548h4v1h-4zM605 548h2v1h-2zM703 548h2v1h-2zM757 548h1v1h-1zM854 548h2v1h-2zM910 548h2v1h-2zM20 549h4v1h-4zM34 549h3v1h-3zM48 549h1v1h-1zM437 549h2v1h-2zM532 549h4v1h-4zM602 549h3v1h-3zM705 549h2v1h-2zM716 549h3v1h-3zM756 549h1v1h-1zM856 549h4v1h-4zM909 549h1v1h-1zM37 550h3v1h-3zM47 550h1v1h-1zM536 550h2v1h-2zM600 550h2v1h-2zM707 550h2v1h-2zM712 550h4v1h-4zM719 550h1v1h-1zM756 550h1v1h-1zM860 550h6v1h-6zM908 550h1v1h-1zM40 551h4v1h-4zM47 551h1v1h-1zM538 551h3v1h-3zM598 551h2v1h-2zM709 551h3v1h-3zM720 551h1v1h-1zM755 551h1v1h-1zM866 551h8v1h-8zM907 551h1v1h-1zM44 552h3v1h-3zM541 552h10v1h-10zM596 552h2v1h-2zM721 552h1v1h-1zM754 552h1v1h-1zM874 552h8v1h-8zM906 552h1v1h-1zM551 553h2v1h-2zM594 553h2v1h-2zM722 553h1v1h-1zM753 553h1v1h-1zM882 553h8v1h-8zM905 553h1v1h-1zM553 554h2v1h-2zM564 554h12v1h-12zM593 554h1v1h-1zM723 554h1v1h-1zM752 554h1v1h-1zM890 554h6v1h-6zM904 554h1v1h-1zM555 555h2v1h-2zM560 555h4v1h-4zM576 555h4v1h-4zM591 555h2v1h-2zM724 555h1v1h-1zM752 555h1v1h-1zM896 555h4v1h-4zM903 555h1v1h-1zM557 556h3v1h-3zM580 556h11v1h-11zM725 556h1v1h-1zM730 556h16v1h-16zM751 556h1v1h-1zM900 556h3v1h-3zM726 557h4v1h-4zM746 557h5v1h-5z" fill="#1e90ff"/>
</g>
<rect x="0" y="604" width="1210" height="1" fill="#e3e3e3" />
<rect x="0" y="605" width="1210" height="26" fill="#f0f0f0" />
<rect x="1" y="606" width="1209" height="1" fill="#000000" />
<rect x="111" y="607" width="1099" height="1" fill="#ffffff" />
<rect x="1" y="606" width="1" height="19" fill="#a0a0a0" />
<rect x="2" y="607" width="1" height="18" fill="#696969" />
<rect x="8" y="606" width="102" height="18" fill="#ffffff" />
<rect x="7" y="606" width="1" height="19" fill="#000000" />
<rect x="110" y="606" width="1" height="19" fill="#000000" />
<rect x="7" y="624" width="104" height="1" fill="#000000" />
<rect x="111" y="607" width="1" height="18" fill="#a0a0a0" />
<rect x="0" y="625" width="1210" height="1" fill="#e6e6e6" />
<rect x="0" y="626" width="1210" height="1" fill="#ffffff" />
<rect x="0" y="627" width="1210" height="1" fill="#f0f0f0" />
<rect x="0" y="628" width="1210" height="1" fill="#f2f2f2" />
<rect x="0" y="629" width="1210" height="1" fill="#f8f8f8" />
<rect x="0" y="630" width="1210" height="1" fill="#a0a0a0" />
<g font-family="'Liberation Sans', Arial, sans-serif">
<text x="19" y="621" font-size="12" fill="#000" font-weight="normal" text-anchor="start" >EURUSD,Daily</text>
<text x="122.3" y="621" font-size="12" fill="#6d6d6d" font-weight="normal" text-anchor="start" >AUDUSD,H4</text>
<text x="213.2" y="621" font-size="12" fill="#6d6d6d" font-weight="normal" text-anchor="start" >USDCHF,Daily</text>
<text x="314.6" y="621" font-size="12" fill="#6d6d6d" font-weight="normal" text-anchor="start" >USDCAD,Daily</text>
<text x="417.2" y="621" font-size="12" fill="#6d6d6d" font-weight="normal" text-anchor="start" >USDCNH,Daily</text>
<text x="521.4" y="621" font-size="12" fill="#6d6d6d" font-weight="normal" text-anchor="start" >USDJPY,Daily</text>
<text x="618.2" y="621" font-size="12" fill="#6d6d6d" font-weight="normal" text-anchor="start" >XAUUSD,H1</text>
<text x="711.1" y="621" font-size="12" fill="#6d6d6d" font-weight="normal" text-anchor="start" >GBPUSD,H4</text>
<text x="803.2" y="621" font-size="12" fill="#6d6d6d" font-weight="normal" text-anchor="start" >SP500,M15</text>
<text x="891.3" y="621" font-size="12" fill="#6d6d6d" font-weight="normal" text-anchor="start" >GBPUSD,Daily</text>
<text x="993.1" y="621" font-size="12" fill="#6d6d6d" font-weight="normal" text-anchor="start" >DJ30,H4</text>
<text x="1061.2" y="621" font-size="12" fill="#6d6d6d" font-weight="normal" text-anchor="start" >TECH100,H1</text>
<text x="1155.5" y="621" font-size="12" fill="#6d6d6d" font-weight="normal" text-anchor="start" >UKC</text>
</g>
<rect x="203" y="609" width="1" height="14" fill="#808080" />
<rect x="303" y="609" width="1" height="14" fill="#808080" />
<rect x="407" y="609" width="1" height="14" fill="#808080" />
<rect x="511" y="609" width="1" height="14" fill="#808080" />
<rect x="607" y="609" width="1" height="14" fill="#808080" />
<rect x="699" y="609" width="1" height="14" fill="#808080" />
<rect x="791" y="609" width="1" height="14" fill="#808080" />
<rect x="879" y="609" width="1" height="14" fill="#808080" />
<rect x="983" y="609" width="1" height="14" fill="#808080" />
<rect x="1051" y="609" width="1" height="14" fill="#808080" />
<rect x="1143" y="609" width="1" height="14" fill="#808080" />
<rect x="1178" y="608" width="32" height="16" fill="#f0f0f0" />
<polygon points="1187.5,612 1187.5,619 1183.5,615.5" fill="#a0a0a0"/>
<polygon points="1202.5,612 1202.5,619 1206.5,615.5" fill="#000"/>
<defs>
<linearGradient id="gp" gradientUnits="userSpaceOnUse" x1="0" y1="50" x2="0" y2="114"><stop offset="0" stop-color="#6060ff"/><stop offset="0.37" stop-color="#3a3af2"/><stop offset="0.40" stop-color="#3434ee"/><stop offset="1" stop-color="#0000a6"/></linearGradient>
<linearGradient id="gbtn" gradientUnits="userSpaceOnUse" x1="0" y1="52" x2="0" y2="70"><stop offset="0" stop-color="#f2f2f2"/><stop offset="0.33" stop-color="#e8e8e8"/><stop offset="0.36" stop-color="#dcdcdc"/><stop offset="1" stop-color="#d2d2d2"/></linearGradient>
</defs>
<path d="M9 50H61V74H118V114H9Z" fill="url(#gp)"/>
<path d="M9.5 50.5H60.5V74.5H117.5V113.5H9.5Z" fill="none" stroke="#0a0aa0" stroke-width="1"/>
<path d="M176 50H228V114H120V74H176Z" fill="url(#gp)"/>
<path d="M176.5 50.5H227.5V113.5H120.5V74.5H176.5Z" fill="none" stroke="#0a0aa0" stroke-width="1"/>
<rect x="13" y="73" width="44" height="1" fill="#1a1a90" />
<rect x="13" y="74" width="44" height="1" fill="#7878ff" />
<rect x="180" y="73" width="45" height="1" fill="#1a1a90" />
<rect x="180" y="74" width="45" height="1" fill="#7878ff" />
<rect x="63" y="50" width="111" height="22" fill="#ffffff" />
<rect x="63.5" y="50.5" width="110" height="21" fill="none" stroke="#a4a4a4" stroke-width="1"/>
<rect x="65" y="52" width="18" height="18" fill="url(#gbtn)" />
<rect x="84" y="51" width="1" height="20" fill="#a8a8a8" />
<rect x="154" y="52" width="18" height="18" fill="url(#gbtn)" />
<rect x="152" y="51" width="1" height="20" fill="#a8a8a8" />
<polygon points="70.5,58.5 76.5,58.5 73.5,62" fill="#4a62c8"/>
<polygon points="159.5,62 165.5,62 162.5,58.5" fill="#4a62c8"/>
<g font-family="'Liberation Sans', Arial, sans-serif">
<text x="125.1" y="65" font-size="12.4" fill="#000" font-weight="normal" text-anchor="start"  textLength="23.6" lengthAdjust="spacingAndGlyphs">5.00</text>
<text x="21.3" y="66" font-size="11.4" fill="#e8e8ff" font-weight="normal" text-anchor="start"  textLength="25.9" lengthAdjust="spacingAndGlyphs">SELL</text>
<text x="189.1" y="66" font-size="11.4" fill="#e8e8ff" font-weight="normal" text-anchor="start"  textLength="24.2" lengthAdjust="spacingAndGlyphs">BUY</text>
<text x="29.4" y="105" font-size="11.4" fill="#ffffff" font-weight="bold" text-anchor="start"  textLength="23.6" lengthAdjust="spacingAndGlyphs">1.12</text>
<text x="56.0" y="105.3" font-size="34" fill="#ffffff" font-weight="normal" text-anchor="start"  textLength="35.7" lengthAdjust="spacingAndGlyphs">44</text>
<text x="95.9" y="89" font-size="12" fill="#ffffff" font-weight="bold" text-anchor="start"  textLength="7.4" lengthAdjust="spacingAndGlyphs">6</text>
<text x="139.4" y="105" font-size="11.4" fill="#ffffff" font-weight="bold" text-anchor="start"  textLength="24.1" lengthAdjust="spacingAndGlyphs">1.12</text>
<text x="167.4" y="105.3" font-size="34" fill="#ffffff" font-weight="normal" text-anchor="start"  textLength="35.7" lengthAdjust="spacingAndGlyphs">46</text>
<text x="206.7" y="89" font-size="12" fill="#ffffff" font-weight="bold" text-anchor="start"  textLength="7.4" lengthAdjust="spacingAndGlyphs">4</text>
</g></svg>
</body></html>
